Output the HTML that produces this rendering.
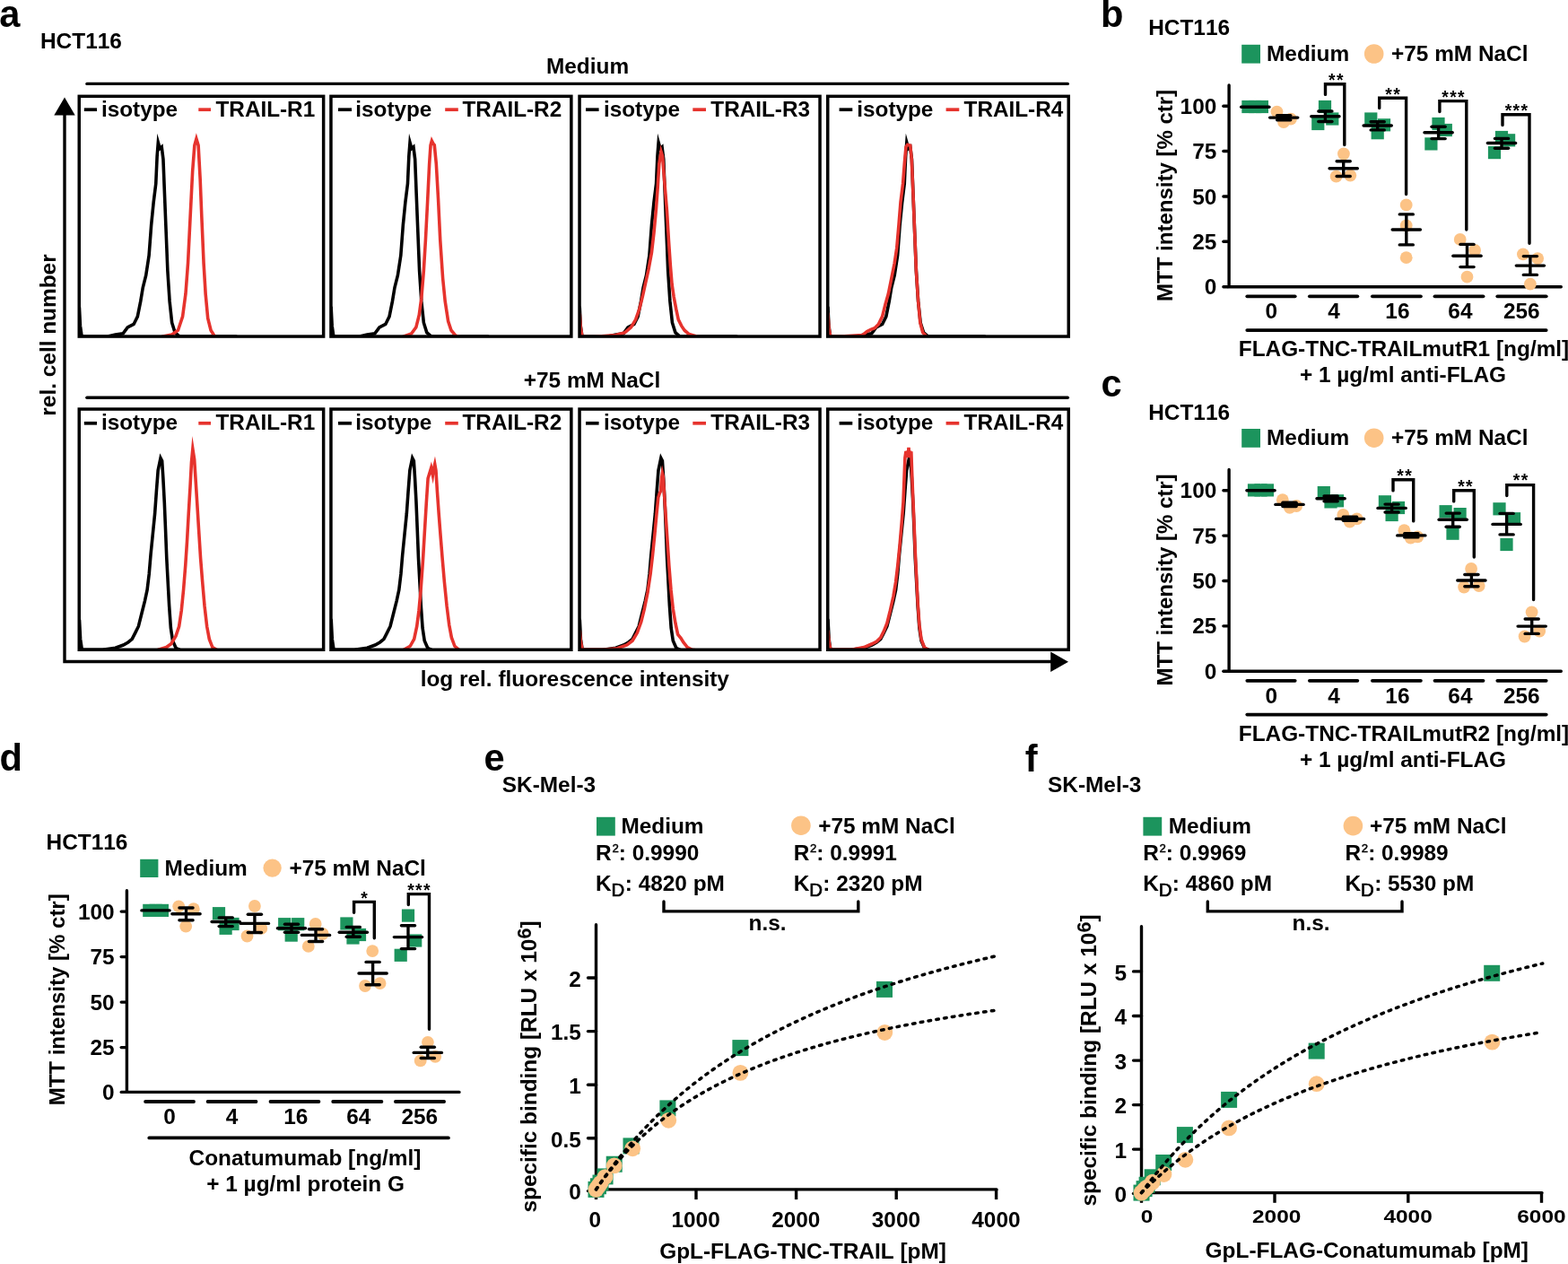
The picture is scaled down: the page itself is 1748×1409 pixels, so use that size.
<!DOCTYPE html>
<html lang="en">
<head>
<meta charset="utf-8">
<title>Figure</title>
<style>
html,body{margin:0;padding:0;background:#fff;}
body{width:1748px;height:1409px;overflow:hidden;}
svg{display:block;font-family:"Liberation Sans",sans-serif;font-kerning:none;}
</style>
</head>
<body>
<svg width="1748" height="1409" viewBox="0 0 1748 1409">
<rect x="0" y="0" width="1748" height="1409" fill="#fff"/>
<text x="-0.80" y="30.30" font-size="41.60" font-weight="bold" text-anchor="start" fill="#000">a</text>
<text x="45.00" y="54.00" font-size="24.40" font-weight="bold" text-anchor="start" fill="#000">HCT116</text>
<text x="655.00" y="82.00" font-size="24.40" font-weight="bold" text-anchor="middle" fill="#000">Medium</text>
<line x1="96.90" y1="93.40" x2="1190.30" y2="93.40" stroke="#000" stroke-width="3.4" stroke-linecap="round"/>
<text x="660.00" y="432.40" font-size="24.40" font-weight="bold" text-anchor="middle" fill="#000">+75 mM NaCl</text>
<line x1="96.90" y1="443.30" x2="1190.30" y2="443.30" stroke="#000" stroke-width="3.4" stroke-linecap="round"/>
<path d="M72.0 126 V737.5 H1172" stroke="#000" stroke-width="3.4" fill="none" stroke-linecap="butt" stroke-linejoin="miter"/>
<polygon points="72.0,108.5 60.3,128.4 83.7,128.4" fill="#000"/>
<polygon points="1191.0,737.7 1171.2,726.4 1171.2,749.0" fill="#000"/>
<text x="62.00" y="373.50" font-size="24.40" font-weight="bold" text-anchor="middle" fill="#000" transform="rotate(-90 62.00 373.50)">rel. cell number</text>
<text x="640.80" y="765.20" font-size="24.40" font-weight="bold" text-anchor="middle" fill="#000">log rel. fluorescence intensity</text>
<clipPath id="cb00"><rect x="87.5" y="106.6" width="273.9" height="269.2"/></clipPath>
<path d="M88.43 342.69 L89.46 363.13 L91.16 375.01 L120.12 375.01 L128.63 373.08 L137.15 371.87 L142.26 364.83 L145.67 363.13 L149.07 361.43 L153.33 352.91 L156.74 335.88 L159.29 320.55 L162.70 306.92 L166.10 284.78 L168.66 250.71 L171.21 225.16 L173.77 204.72 L175.13 174.07 L176.32 158.92 L178.20 165.55 L180.24 163.76 L181.95 177.47 L183.48 216.65 L185.18 259.23 L186.88 301.81 L189.10 335.88 L191.65 359.72 L195.06 370.66 L200.17 375.01 L263.19 375.01" fill="none" stroke="#000" stroke-width="3.6" stroke-linejoin="miter" stroke-miterlimit="30" stroke-linecap="round" clip-path="url(#cb00)"/>
<path d="M181.43 375.01 L191.65 373.08 L198.47 368.24 L203.58 352.91 L206.98 327.36 L209.54 293.30 L212.09 242.20 L214.65 191.10 L216.86 162.14 L218.91 154.81 L221.12 162.14 L223.16 199.62 L224.87 242.20 L227.08 293.30 L229.13 327.36 L231.68 354.61 L235.09 368.24 L239.35 375.01" fill="none" stroke="#e6332d" stroke-width="3.6" stroke-linejoin="miter" stroke-miterlimit="30" stroke-linecap="round" clip-path="url(#cb00)"/>
<rect x="88.25" y="107.35" width="272.40" height="267.70" fill="none" stroke="#000" stroke-width="3.5"/>
<line x1="93.80" y1="122.20" x2="108.00" y2="122.20" stroke="#000" stroke-width="3.7" stroke-linecap="butt"/>
<line x1="221.30" y1="122.20" x2="235.00" y2="122.20" stroke="#e6332d" stroke-width="3.7" stroke-linecap="butt"/>
<text x="113.00" y="130.10" font-size="24.30" font-weight="bold" text-anchor="start" fill="#000">isotype</text>
<text x="240.50" y="130.10" font-size="24.30" font-weight="bold" text-anchor="start" fill="#000">TRAIL-R1</text>
<clipPath id="cb01"><rect x="368.2" y="106.6" width="269.4" height="269.2"/></clipPath>
<path d="M369.13 342.69 L370.16 363.13 L371.86 375.01 L400.82 375.01 L409.33 373.08 L417.85 371.87 L422.96 364.83 L426.37 363.13 L429.77 361.43 L434.03 352.91 L437.44 335.88 L439.99 320.55 L443.40 306.92 L446.80 284.78 L449.36 250.71 L451.91 225.16 L454.47 204.72 L455.83 174.07 L457.02 158.92 L458.90 165.55 L460.94 163.76 L462.65 177.47 L464.18 216.65 L465.88 259.23 L467.58 301.81 L469.80 335.88 L472.35 359.72 L475.76 370.66 L480.87 375.01 L543.89 375.01" fill="none" stroke="#000" stroke-width="3.6" stroke-linejoin="miter" stroke-miterlimit="30" stroke-linecap="round" clip-path="url(#cb01)"/>
<path d="M450.21 375.01 L458.73 371.87 L463.84 364.83 L467.24 351.21 L469.80 332.47 L472.35 301.81 L474.40 267.75 L476.61 225.16 L478.66 182.58 L480.02 162.14 L481.38 157.02 L482.91 160.10 L484.28 161.80 L486.32 182.58 L488.54 221.76 L490.75 267.75 L493.64 310.33 L496.20 335.88 L499.61 358.02 L503.01 368.24 L508.12 374.29 L513.23 375.50" fill="none" stroke="#e6332d" stroke-width="3.6" stroke-linejoin="miter" stroke-miterlimit="30" stroke-linecap="round" clip-path="url(#cb01)"/>
<rect x="368.95" y="107.35" width="267.90" height="267.70" fill="none" stroke="#000" stroke-width="3.5"/>
<line x1="377.00" y1="122.20" x2="392.00" y2="122.20" stroke="#000" stroke-width="3.7" stroke-linecap="butt"/>
<line x1="496.20" y1="122.20" x2="510.80" y2="122.20" stroke="#e6332d" stroke-width="3.7" stroke-linecap="butt"/>
<text x="396.30" y="130.10" font-size="24.30" font-weight="bold" text-anchor="start" fill="#000">isotype</text>
<text x="515.50" y="130.10" font-size="24.30" font-weight="bold" text-anchor="start" fill="#000">TRAIL-R2</text>
<clipPath id="cb02"><rect x="645.3" y="106.6" width="269.5" height="269.2"/></clipPath>
<path d="M646.23 342.69 L647.26 363.13 L648.96 375.01 L677.92 375.01 L686.43 373.08 L694.95 371.87 L700.06 364.83 L703.47 363.13 L706.87 361.43 L711.13 352.91 L714.54 335.88 L717.09 320.55 L720.50 306.92 L723.90 284.78 L726.46 250.71 L729.01 225.16 L731.57 204.72 L732.93 174.07 L734.12 158.92 L736.00 165.55 L738.04 163.76 L739.75 177.47 L741.28 216.65 L742.98 259.23 L744.68 301.81 L746.90 335.88 L749.45 359.72 L752.86 370.66 L757.97 375.01 L820.99 375.01" fill="none" stroke="#000" stroke-width="3.6" stroke-linejoin="miter" stroke-miterlimit="30" stroke-linecap="round" clip-path="url(#cb02)"/>
<path d="M646.23 349.50 L647.26 364.83 L648.96 375.01 L660.88 375.50 L686.43 373.56 L696.65 370.66 L703.47 364.83 L708.57 356.32 L712.83 344.39 L716.24 330.77 L719.65 315.44 L723.05 300.11 L726.46 281.37 L729.01 259.23 L731.40 233.68 L733.27 208.13 L734.81 182.58 L737.02 169.12 L738.55 174.07 L740.94 204.72 L743.49 235.38 L745.54 269.45 L747.41 296.70 L749.11 317.14 L751.16 330.77 L753.71 344.39 L756.27 356.32 L759.67 363.13 L763.08 368.24 L768.19 372.59 L776.71 375.01 L783.52 375.98" fill="none" stroke="#e6332d" stroke-width="3.6" stroke-linejoin="miter" stroke-miterlimit="30" stroke-linecap="round" clip-path="url(#cb02)"/>
<rect x="646.05" y="107.35" width="268.00" height="267.70" fill="none" stroke="#000" stroke-width="3.5"/>
<line x1="653.00" y1="122.20" x2="667.60" y2="122.20" stroke="#000" stroke-width="3.7" stroke-linecap="butt"/>
<line x1="772.30" y1="122.20" x2="787.00" y2="122.20" stroke="#e6332d" stroke-width="3.7" stroke-linecap="butt"/>
<text x="673.00" y="130.10" font-size="24.30" font-weight="bold" text-anchor="start" fill="#000">isotype</text>
<text x="792.30" y="130.10" font-size="24.30" font-weight="bold" text-anchor="start" fill="#000">TRAIL-R3</text>
<clipPath id="cb03"><rect x="922.0" y="106.6" width="270.0" height="269.2"/></clipPath>
<path d="M922.93 342.69 L923.96 363.13 L925.66 375.01 L954.62 375.01 L963.13 373.08 L971.65 371.87 L976.76 364.83 L980.17 363.13 L983.57 361.43 L987.83 352.91 L991.24 335.88 L993.79 320.55 L997.20 306.92 L1000.60 284.78 L1003.16 250.71 L1005.71 225.16 L1008.27 204.72 L1009.63 174.07 L1010.82 158.92 L1012.70 165.55 L1014.74 163.76 L1016.45 177.47 L1017.98 216.65 L1019.68 259.23 L1021.38 301.81 L1023.60 335.88 L1026.15 359.72 L1029.56 370.66 L1034.67 375.01 L1097.69 375.01" fill="none" stroke="#000" stroke-width="3.6" stroke-linejoin="miter" stroke-miterlimit="30" stroke-linecap="round" clip-path="url(#cb03)"/>
<path d="M922.93 349.50 L923.96 364.83 L925.66 375.01 L937.58 375.01 L961.43 373.56 L966.54 369.45 L970.80 367.39 L975.06 365.69 L979.31 361.43 L983.57 352.91 L986.98 339.28 L990.38 327.36 L993.79 310.33 L997.20 293.30 L999.75 276.26 L1001.97 250.71 L1004.01 225.16 L1006.57 204.72 L1008.27 182.58 L1009.97 163.85 L1011.68 161.29 L1014.74 162.14 L1016.27 177.47 L1017.98 216.65 L1019.68 259.23 L1021.38 301.81 L1023.60 335.88 L1025.81 359.72 L1028.71 370.66 L1032.97 375.01" fill="none" stroke="#e6332d" stroke-width="3.6" stroke-linejoin="miter" stroke-miterlimit="30" stroke-linecap="round" clip-path="url(#cb03)"/>
<rect x="922.75" y="107.35" width="268.50" height="267.70" fill="none" stroke="#000" stroke-width="3.5"/>
<line x1="935.60" y1="122.20" x2="950.30" y2="122.20" stroke="#000" stroke-width="3.7" stroke-linecap="butt"/>
<line x1="1054.60" y1="122.20" x2="1069.30" y2="122.20" stroke="#e6332d" stroke-width="3.7" stroke-linecap="butt"/>
<text x="955.30" y="130.10" font-size="24.30" font-weight="bold" text-anchor="start" fill="#000">isotype</text>
<text x="1074.60" y="130.10" font-size="24.30" font-weight="bold" text-anchor="start" fill="#000">TRAIL-R4</text>
<clipPath id="cb10"><rect x="87.5" y="455.3" width="273.9" height="269.7"/></clipPath>
<path d="M88.53 691.14 L89.60 712.43 L91.37 724.31 L114.44 724.31 L128.63 722.29 L137.50 719.02 L142.83 715.98 L147.26 712.43 L150.81 705.34 L154.36 698.24 L157.91 684.05 L161.46 669.85 L164.12 657.43 L166.25 639.69 L168.02 618.40 L170.33 595.33 L172.64 572.26 L174.41 547.42 L176.18 524.36 L179.02 510.61 L180.62 513.71 L181.86 533.23 L183.28 559.84 L184.52 590.01 L185.77 621.94 L187.19 648.56 L188.61 675.17 L190.38 700.01 L192.51 714.21 L196.06 722.29 L201.38 724.81 L265.26 724.81" fill="none" stroke="#000" stroke-width="3.6" stroke-linejoin="miter" stroke-miterlimit="30" stroke-linecap="round" clip-path="url(#cb10)"/>
<path d="M176.54 724.31 L185.41 721.54 L190.73 717.76 L196.06 708.89 L199.61 698.24 L202.27 680.50 L204.57 657.43 L206.70 630.82 L208.48 604.20 L210.25 572.26 L212.03 542.10 L213.45 515.49 L214.86 500.53 L216.64 511.94 L218.24 536.78 L220.01 565.17 L221.78 593.56 L223.56 621.94 L225.69 648.56 L227.99 675.17 L230.66 698.24 L233.32 712.43 L236.87 721.54 L242.19 724.81" fill="none" stroke="#e6332d" stroke-width="3.6" stroke-linejoin="miter" stroke-miterlimit="30" stroke-linecap="round" clip-path="url(#cb10)"/>
<rect x="88.25" y="456.05" width="272.40" height="268.20" fill="none" stroke="#000" stroke-width="3.5"/>
<line x1="93.80" y1="471.80" x2="108.00" y2="471.80" stroke="#000" stroke-width="3.7" stroke-linecap="butt"/>
<line x1="221.30" y1="471.80" x2="235.00" y2="471.80" stroke="#e6332d" stroke-width="3.7" stroke-linecap="butt"/>
<text x="113.00" y="479.20" font-size="24.30" font-weight="bold" text-anchor="start" fill="#000">isotype</text>
<text x="240.50" y="479.20" font-size="24.30" font-weight="bold" text-anchor="start" fill="#000">TRAIL-R1</text>
<clipPath id="cb11"><rect x="368.2" y="455.3" width="269.4" height="269.7"/></clipPath>
<path d="M369.23 691.14 L370.30 712.43 L372.07 724.31 L395.14 724.31 L409.33 722.29 L418.20 719.02 L423.53 715.98 L427.96 712.43 L431.51 705.34 L435.06 698.24 L438.61 684.05 L442.16 669.85 L444.82 657.43 L446.95 639.69 L448.72 618.40 L451.03 595.33 L453.34 572.26 L455.11 547.42 L456.88 524.36 L459.72 510.61 L461.32 513.71 L462.56 533.23 L463.98 559.84 L465.22 590.01 L466.47 621.94 L467.89 648.56 L469.31 675.17 L471.08 700.01 L473.21 714.21 L476.76 722.29 L482.08 724.81 L545.96 724.81" fill="none" stroke="#000" stroke-width="3.6" stroke-linejoin="miter" stroke-miterlimit="30" stroke-linecap="round" clip-path="url(#cb11)"/>
<path d="M450.14 724.31 L457.24 720.28 L461.68 712.43 L464.69 698.24 L467.00 680.50 L469.13 657.43 L471.43 625.49 L473.21 595.33 L475.34 559.84 L477.11 533.23 L480.66 521.66 L482.43 529.68 L483.50 522.58 L484.74 517.32 L485.98 524.36 L487.40 547.42 L489.18 572.26 L490.95 595.33 L493.08 621.94 L495.39 648.56 L498.05 675.17 L500.71 696.47 L503.37 710.66 L506.92 720.28 L512.24 724.81" fill="none" stroke="#e6332d" stroke-width="3.6" stroke-linejoin="miter" stroke-miterlimit="30" stroke-linecap="round" clip-path="url(#cb11)"/>
<rect x="368.95" y="456.05" width="267.90" height="268.20" fill="none" stroke="#000" stroke-width="3.5"/>
<line x1="377.00" y1="471.80" x2="392.00" y2="471.80" stroke="#000" stroke-width="3.7" stroke-linecap="butt"/>
<line x1="496.20" y1="471.80" x2="510.80" y2="471.80" stroke="#e6332d" stroke-width="3.7" stroke-linecap="butt"/>
<text x="396.30" y="479.20" font-size="24.30" font-weight="bold" text-anchor="start" fill="#000">isotype</text>
<text x="515.50" y="479.20" font-size="24.30" font-weight="bold" text-anchor="start" fill="#000">TRAIL-R2</text>
<clipPath id="cb12"><rect x="645.3" y="455.3" width="269.5" height="269.7"/></clipPath>
<path d="M646.33 691.14 L647.40 712.43 L649.17 724.31 L672.24 724.31 L686.43 722.29 L695.30 719.02 L700.63 715.98 L705.06 712.43 L708.61 705.34 L712.16 698.24 L715.71 684.05 L719.26 669.85 L721.92 657.43 L724.05 639.69 L725.82 618.40 L728.13 595.33 L730.44 572.26 L732.21 547.42 L733.98 524.36 L736.82 510.61 L738.42 513.71 L739.66 533.23 L741.08 559.84 L742.32 590.01 L743.57 621.94 L744.99 648.56 L746.41 675.17 L748.18 700.01 L750.31 714.21 L753.86 722.29 L759.18 724.81 L823.06 724.81" fill="none" stroke="#000" stroke-width="3.6" stroke-linejoin="miter" stroke-miterlimit="30" stroke-linecap="round" clip-path="url(#cb12)"/>
<path d="M646.33 703.56 L647.40 715.10 L649.17 724.31 L672.24 724.31 L688.21 722.80 L698.85 719.02 L705.06 714.21 L710.39 705.34 L714.82 692.92 L718.37 678.72 L721.92 660.98 L725.11 639.69 L727.60 618.40 L729.90 595.33 L732.03 572.26 L733.81 554.52 L735.23 550.09 L736.47 547.42 L737.53 533.23 L738.42 527.61 L739.31 531.45 L740.55 550.97 L742.32 577.59 L744.10 604.20 L745.87 630.82 L748.00 657.43 L750.31 678.72 L752.97 694.69 L755.63 707.11 L759.18 711.55 L761.84 715.98 L766.28 721.54 L771.60 724.31 L778.70 725.32" fill="none" stroke="#e6332d" stroke-width="3.6" stroke-linejoin="miter" stroke-miterlimit="30" stroke-linecap="round" clip-path="url(#cb12)"/>
<rect x="646.05" y="456.05" width="268.00" height="268.20" fill="none" stroke="#000" stroke-width="3.5"/>
<line x1="653.00" y1="471.80" x2="667.60" y2="471.80" stroke="#000" stroke-width="3.7" stroke-linecap="butt"/>
<line x1="772.30" y1="471.80" x2="787.00" y2="471.80" stroke="#e6332d" stroke-width="3.7" stroke-linecap="butt"/>
<text x="673.00" y="479.20" font-size="24.30" font-weight="bold" text-anchor="start" fill="#000">isotype</text>
<text x="792.30" y="479.20" font-size="24.30" font-weight="bold" text-anchor="start" fill="#000">TRAIL-R3</text>
<clipPath id="cb13"><rect x="922.0" y="455.3" width="270.0" height="269.7"/></clipPath>
<path d="M923.03 691.14 L924.10 712.43 L925.87 724.31 L948.94 724.31 L963.13 722.29 L972.00 719.02 L977.33 715.98 L981.76 712.43 L985.31 705.34 L988.86 698.24 L992.41 684.05 L995.96 669.85 L998.62 657.43 L1000.75 639.69 L1002.52 618.40 L1004.83 595.33 L1007.14 572.26 L1008.91 547.42 L1010.68 524.36 L1013.52 510.61 L1015.12 513.71 L1016.36 533.23 L1017.78 559.84 L1019.02 590.01 L1020.27 621.94 L1021.69 648.56 L1023.11 675.17 L1024.88 700.01 L1027.01 714.21 L1030.56 722.29 L1035.88 724.81 L1099.76 724.81" fill="none" stroke="#000" stroke-width="3.6" stroke-linejoin="miter" stroke-miterlimit="30" stroke-linecap="round" clip-path="url(#cb13)"/>
<path d="M923.03 703.56 L924.10 715.10 L925.87 724.31 L948.94 724.31 L963.13 721.54 L972.00 717.76 L977.33 715.10 L981.76 710.66 L985.31 703.56 L988.86 694.69 L992.41 680.50 L995.96 664.53 L998.62 648.56 L1000.75 630.82 L1003.06 607.75 L1005.18 582.91 L1006.96 559.84 L1008.02 533.23 L1008.91 510.16 L1009.98 503.07 L1010.68 510.16 L1011.39 502.71 L1012.10 510.16 L1012.64 503.07 L1012.99 498.81 L1013.35 503.07 L1013.88 510.16 L1014.59 502.71 L1015.30 510.16 L1015.83 503.24 L1016.54 524.36 L1017.60 550.97 L1019.02 582.91 L1020.27 614.85 L1021.69 643.24 L1023.11 671.63 L1024.88 696.47 L1027.01 712.43 L1030.56 721.79 L1035.88 724.81" fill="none" stroke="#e6332d" stroke-width="3.6" stroke-linejoin="miter" stroke-miterlimit="2.2" stroke-linecap="round" clip-path="url(#cb13)"/>
<rect x="922.75" y="456.05" width="268.50" height="268.20" fill="none" stroke="#000" stroke-width="3.5"/>
<line x1="935.60" y1="471.80" x2="950.30" y2="471.80" stroke="#000" stroke-width="3.7" stroke-linecap="butt"/>
<line x1="1054.60" y1="471.80" x2="1069.30" y2="471.80" stroke="#e6332d" stroke-width="3.7" stroke-linecap="butt"/>
<text x="955.30" y="479.20" font-size="24.30" font-weight="bold" text-anchor="start" fill="#000">isotype</text>
<text x="1074.60" y="479.20" font-size="24.30" font-weight="bold" text-anchor="start" fill="#000">TRAIL-R4</text>
<text x="1226.90" y="30.20" font-size="41.60" font-weight="bold" text-anchor="start" fill="#000">b</text>
<text x="1280.20" y="39.00" font-size="24.40" font-weight="bold" text-anchor="start" fill="#000">HCT116</text>
<rect x="1384.20" y="49.80" width="20.8" height="20.8" fill="#1c945d"/>
<text x="1412.00" y="68.20" font-size="24.40" font-weight="bold" text-anchor="start" fill="#000">Medium</text>
<circle cx="1531.70" cy="60.00" r="10.8" fill="#fcc386"/>
<text x="1551.00" y="68.20" font-size="24.40" font-weight="bold" text-anchor="start" fill="#000">+75 mM NaCl</text>
<text x="1227.50" y="441.70" font-size="41.60" font-weight="bold" text-anchor="start" fill="#000">c</text>
<text x="1280.20" y="467.60" font-size="24.40" font-weight="bold" text-anchor="start" fill="#000">HCT116</text>
<rect x="1384.20" y="478.00" width="20.8" height="20.8" fill="#1c945d"/>
<text x="1412.00" y="496.40" font-size="24.40" font-weight="bold" text-anchor="start" fill="#000">Medium</text>
<circle cx="1531.70" cy="488.20" r="10.8" fill="#fcc386"/>
<text x="1551.00" y="496.40" font-size="24.40" font-weight="bold" text-anchor="start" fill="#000">+75 mM NaCl</text>
<path d="M1370.10 94.90 V319.70 H1740.30" stroke="#000" stroke-width="3.4" fill="none" stroke-linecap="round" stroke-linejoin="miter"/>
<line x1="1363.90" y1="319.70" x2="1368.40" y2="319.70" stroke="#000" stroke-width="3.4" stroke-linecap="round"/>
<text x="1356.30" y="328.30" font-size="24.40" font-weight="bold" text-anchor="end" fill="#000">0</text>
<line x1="1363.90" y1="269.32" x2="1368.40" y2="269.32" stroke="#000" stroke-width="3.4" stroke-linecap="round"/>
<text x="1356.30" y="277.93" font-size="24.40" font-weight="bold" text-anchor="end" fill="#000">25</text>
<line x1="1363.90" y1="218.95" x2="1368.40" y2="218.95" stroke="#000" stroke-width="3.4" stroke-linecap="round"/>
<text x="1356.30" y="227.55" font-size="24.40" font-weight="bold" text-anchor="end" fill="#000">50</text>
<line x1="1363.90" y1="168.57" x2="1368.40" y2="168.57" stroke="#000" stroke-width="3.4" stroke-linecap="round"/>
<text x="1356.30" y="177.17" font-size="24.40" font-weight="bold" text-anchor="end" fill="#000">75</text>
<line x1="1363.90" y1="118.20" x2="1368.40" y2="118.20" stroke="#000" stroke-width="3.4" stroke-linecap="round"/>
<text x="1356.30" y="126.80" font-size="24.40" font-weight="bold" text-anchor="end" fill="#000">100</text>
<text x="0" y="0" font-size="24" font-weight="bold" text-anchor="middle" transform="translate(1307.00 217.90) rotate(-90) scale(1 1.0)">MTT intensity [% ctr]</text>
<line x1="1390.30" y1="330.30" x2="1443.70" y2="330.30" stroke="#000" stroke-width="3.8" stroke-linecap="round"/>
<line x1="1459.90" y1="330.30" x2="1513.30" y2="330.30" stroke="#000" stroke-width="3.8" stroke-linecap="round"/>
<line x1="1529.90" y1="330.30" x2="1583.90" y2="330.30" stroke="#000" stroke-width="3.8" stroke-linecap="round"/>
<line x1="1599.50" y1="330.30" x2="1653.50" y2="330.30" stroke="#000" stroke-width="3.8" stroke-linecap="round"/>
<line x1="1669.30" y1="330.30" x2="1723.70" y2="330.30" stroke="#000" stroke-width="3.8" stroke-linecap="round"/>
<text x="1417.30" y="355.40" font-size="24.40" font-weight="bold" text-anchor="middle" fill="#000">0</text>
<text x="1487.00" y="355.40" font-size="24.40" font-weight="bold" text-anchor="middle" fill="#000">4</text>
<text x="1557.90" y="355.40" font-size="24.40" font-weight="bold" text-anchor="middle" fill="#000">16</text>
<text x="1627.90" y="355.40" font-size="24.40" font-weight="bold" text-anchor="middle" fill="#000">64</text>
<text x="1696.30" y="355.40" font-size="24.40" font-weight="bold" text-anchor="middle" fill="#000">256</text>
<line x1="1390.30" y1="368.10" x2="1723.70" y2="368.10" stroke="#000" stroke-width="3.8" stroke-linecap="round"/>
<text x="1565.00" y="397.20" font-size="24.40" font-weight="bold" text-anchor="middle" fill="#000">FLAG-TNC-TRAILmutR1 [ng/ml]</text>
<text x="1564.00" y="426.30" font-size="24.40" font-weight="bold" text-anchor="middle" fill="#000">+ 1 µg/ml anti-FLAG</text>
<rect x="1384.30" y="111.90" width="14.2" height="14.2" fill="#1c945d"/>
<rect x="1392.10" y="111.90" width="14.2" height="14.2" fill="#1c945d"/>
<rect x="1399.80" y="111.90" width="14.2" height="14.2" fill="#1c945d"/>
<circle cx="1423.50" cy="124.60" r="6.9" fill="#fcc386"/>
<circle cx="1431.00" cy="136.00" r="6.9" fill="#fcc386"/>
<circle cx="1439.00" cy="132.60" r="6.9" fill="#fcc386"/>
<rect x="1469.90" y="111.90" width="14.2" height="14.2" fill="#1c945d"/>
<rect x="1478.20" y="125.40" width="14.2" height="14.2" fill="#1c945d"/>
<rect x="1462.20" y="130.90" width="14.2" height="14.2" fill="#1c945d"/>
<circle cx="1497.90" cy="171.50" r="6.9" fill="#fcc386"/>
<circle cx="1489.60" cy="196.70" r="6.9" fill="#fcc386"/>
<circle cx="1505.30" cy="195.60" r="6.9" fill="#fcc386"/>
<rect x="1521.20" y="125.40" width="14.2" height="14.2" fill="#1c945d"/>
<rect x="1535.90" y="132.20" width="14.2" height="14.2" fill="#1c945d"/>
<rect x="1528.60" y="141.10" width="14.2" height="14.2" fill="#1c945d"/>
<circle cx="1567.70" cy="228.40" r="6.9" fill="#fcc386"/>
<circle cx="1567.70" cy="251.50" r="6.9" fill="#fcc386"/>
<circle cx="1567.70" cy="287.20" r="6.9" fill="#fcc386"/>
<rect x="1596.40" y="130.90" width="14.2" height="14.2" fill="#1c945d"/>
<rect x="1604.70" y="137.90" width="14.2" height="14.2" fill="#1c945d"/>
<rect x="1588.30" y="153.30" width="14.2" height="14.2" fill="#1c945d"/>
<circle cx="1627.70" cy="266.90" r="6.9" fill="#fcc386"/>
<circle cx="1644.10" cy="279.00" r="6.9" fill="#fcc386"/>
<circle cx="1635.50" cy="308.70" r="6.9" fill="#fcc386"/>
<rect x="1666.90" y="145.90" width="14.2" height="14.2" fill="#1c945d"/>
<rect x="1675.00" y="149.20" width="14.2" height="14.2" fill="#1c945d"/>
<rect x="1658.90" y="163.00" width="14.2" height="14.2" fill="#1c945d"/>
<circle cx="1697.90" cy="283.30" r="6.9" fill="#fcc386"/>
<circle cx="1714.20" cy="288.10" r="6.9" fill="#fcc386"/>
<circle cx="1705.90" cy="316.70" r="6.9" fill="#fcc386"/>
<line x1="1383.70" y1="119.30" x2="1414.90" y2="119.30" stroke="#000" stroke-width="3.4" stroke-linecap="round"/>
<line x1="1415.60" y1="131.10" x2="1446.80" y2="131.10" stroke="#000" stroke-width="3.4" stroke-linecap="round"/>
<line x1="1423.65" y1="128.60" x2="1438.75" y2="128.60" stroke="#000" stroke-width="3.4" stroke-linecap="round"/>
<line x1="1423.65" y1="133.80" x2="1438.75" y2="133.80" stroke="#000" stroke-width="3.4" stroke-linecap="round"/>
<line x1="1431.20" y1="128.60" x2="1431.20" y2="133.80" stroke="#000" stroke-width="3.4" stroke-linecap="butt"/>
<line x1="1461.80" y1="129.80" x2="1493.00" y2="129.80" stroke="#000" stroke-width="3.4" stroke-linecap="round"/>
<line x1="1469.85" y1="124.00" x2="1484.95" y2="124.00" stroke="#000" stroke-width="3.4" stroke-linecap="round"/>
<line x1="1469.85" y1="135.50" x2="1484.95" y2="135.50" stroke="#000" stroke-width="3.4" stroke-linecap="round"/>
<line x1="1477.40" y1="124.00" x2="1477.40" y2="135.50" stroke="#000" stroke-width="3.4" stroke-linecap="butt"/>
<line x1="1482.10" y1="187.80" x2="1513.30" y2="187.80" stroke="#000" stroke-width="3.4" stroke-linecap="round"/>
<line x1="1490.15" y1="179.80" x2="1505.25" y2="179.80" stroke="#000" stroke-width="3.4" stroke-linecap="round"/>
<line x1="1490.15" y1="196.50" x2="1505.25" y2="196.50" stroke="#000" stroke-width="3.4" stroke-linecap="round"/>
<line x1="1497.70" y1="179.80" x2="1497.70" y2="196.50" stroke="#000" stroke-width="3.4" stroke-linecap="butt"/>
<line x1="1520.10" y1="140.00" x2="1551.30" y2="140.00" stroke="#000" stroke-width="3.4" stroke-linecap="round"/>
<line x1="1528.15" y1="135.70" x2="1543.25" y2="135.70" stroke="#000" stroke-width="3.4" stroke-linecap="round"/>
<line x1="1528.15" y1="144.90" x2="1543.25" y2="144.90" stroke="#000" stroke-width="3.4" stroke-linecap="round"/>
<line x1="1535.70" y1="135.70" x2="1535.70" y2="144.90" stroke="#000" stroke-width="3.4" stroke-linecap="butt"/>
<line x1="1552.20" y1="256.00" x2="1583.40" y2="256.00" stroke="#000" stroke-width="3.4" stroke-linecap="round"/>
<line x1="1560.25" y1="238.90" x2="1575.35" y2="238.90" stroke="#000" stroke-width="3.4" stroke-linecap="round"/>
<line x1="1560.25" y1="272.90" x2="1575.35" y2="272.90" stroke="#000" stroke-width="3.4" stroke-linecap="round"/>
<line x1="1567.80" y1="238.90" x2="1567.80" y2="272.90" stroke="#000" stroke-width="3.4" stroke-linecap="butt"/>
<line x1="1588.00" y1="147.80" x2="1619.20" y2="147.80" stroke="#000" stroke-width="3.4" stroke-linecap="round"/>
<line x1="1596.05" y1="141.20" x2="1611.15" y2="141.20" stroke="#000" stroke-width="3.4" stroke-linecap="round"/>
<line x1="1596.05" y1="154.60" x2="1611.15" y2="154.60" stroke="#000" stroke-width="3.4" stroke-linecap="round"/>
<line x1="1603.60" y1="141.20" x2="1603.60" y2="154.60" stroke="#000" stroke-width="3.4" stroke-linecap="butt"/>
<line x1="1619.90" y1="285.20" x2="1651.10" y2="285.20" stroke="#000" stroke-width="3.4" stroke-linecap="round"/>
<line x1="1627.95" y1="272.40" x2="1643.05" y2="272.40" stroke="#000" stroke-width="3.4" stroke-linecap="round"/>
<line x1="1627.95" y1="297.60" x2="1643.05" y2="297.60" stroke="#000" stroke-width="3.4" stroke-linecap="round"/>
<line x1="1635.50" y1="272.40" x2="1635.50" y2="297.60" stroke="#000" stroke-width="3.4" stroke-linecap="butt"/>
<line x1="1658.40" y1="159.50" x2="1689.60" y2="159.50" stroke="#000" stroke-width="3.4" stroke-linecap="round"/>
<line x1="1666.45" y1="154.40" x2="1681.55" y2="154.40" stroke="#000" stroke-width="3.4" stroke-linecap="round"/>
<line x1="1666.45" y1="165.20" x2="1681.55" y2="165.20" stroke="#000" stroke-width="3.4" stroke-linecap="round"/>
<line x1="1674.00" y1="154.40" x2="1674.00" y2="165.20" stroke="#000" stroke-width="3.4" stroke-linecap="butt"/>
<line x1="1690.30" y1="296.10" x2="1721.50" y2="296.10" stroke="#000" stroke-width="3.4" stroke-linecap="round"/>
<line x1="1698.35" y1="285.60" x2="1713.45" y2="285.60" stroke="#000" stroke-width="3.4" stroke-linecap="round"/>
<line x1="1698.35" y1="306.40" x2="1713.45" y2="306.40" stroke="#000" stroke-width="3.4" stroke-linecap="round"/>
<line x1="1705.90" y1="285.60" x2="1705.90" y2="306.40" stroke="#000" stroke-width="3.4" stroke-linecap="butt"/>
<path d="M1477.50 105.40 V93.70 H1498.80 V161.50" stroke="#000" stroke-width="3.4" fill="none" stroke-linecap="round" stroke-linejoin="miter"/>
<text x="1489.97" y="95.99" font-size="19.4" font-weight="bold" text-anchor="middle" letter-spacing="1.35">**</text>
<path d="M1537.70 120.60 V109.20 H1567.60 V216.60" stroke="#000" stroke-width="3.4" fill="none" stroke-linecap="round" stroke-linejoin="miter"/>
<text x="1553.27" y="112.39" font-size="19.4" font-weight="bold" text-anchor="middle" letter-spacing="1.35">**</text>
<path d="M1604.90 124.60 V112.60 H1634.80 V256.00" stroke="#000" stroke-width="3.4" fill="none" stroke-linecap="round" stroke-linejoin="miter"/>
<text x="1620.67" y="115.39" font-size="19.4" font-weight="bold" text-anchor="middle" letter-spacing="1.35">***</text>
<path d="M1675.00 139.50 V127.80 H1705.00 V271.20" stroke="#000" stroke-width="3.4" fill="none" stroke-linecap="round" stroke-linejoin="miter"/>
<text x="1691.08" y="130.49" font-size="19.4" font-weight="bold" text-anchor="middle" letter-spacing="1.35">***</text>
<path d="M1370.10 523.40 V748.20 H1740.30" stroke="#000" stroke-width="3.4" fill="none" stroke-linecap="round" stroke-linejoin="miter"/>
<line x1="1363.90" y1="748.20" x2="1368.40" y2="748.20" stroke="#000" stroke-width="3.4" stroke-linecap="round"/>
<text x="1356.30" y="756.80" font-size="24.40" font-weight="bold" text-anchor="end" fill="#000">0</text>
<line x1="1363.90" y1="697.83" x2="1368.40" y2="697.83" stroke="#000" stroke-width="3.4" stroke-linecap="round"/>
<text x="1356.30" y="706.43" font-size="24.40" font-weight="bold" text-anchor="end" fill="#000">25</text>
<line x1="1363.90" y1="647.45" x2="1368.40" y2="647.45" stroke="#000" stroke-width="3.4" stroke-linecap="round"/>
<text x="1356.30" y="656.05" font-size="24.40" font-weight="bold" text-anchor="end" fill="#000">50</text>
<line x1="1363.90" y1="597.08" x2="1368.40" y2="597.08" stroke="#000" stroke-width="3.4" stroke-linecap="round"/>
<text x="1356.30" y="605.68" font-size="24.40" font-weight="bold" text-anchor="end" fill="#000">75</text>
<line x1="1363.90" y1="546.70" x2="1368.40" y2="546.70" stroke="#000" stroke-width="3.4" stroke-linecap="round"/>
<text x="1356.30" y="555.30" font-size="24.40" font-weight="bold" text-anchor="end" fill="#000">100</text>
<text x="0" y="0" font-size="24" font-weight="bold" text-anchor="middle" transform="translate(1307.00 646.40) rotate(-90) scale(1 1.0)">MTT intensity [% ctr]</text>
<line x1="1390.30" y1="758.80" x2="1443.70" y2="758.80" stroke="#000" stroke-width="3.8" stroke-linecap="round"/>
<line x1="1459.90" y1="758.80" x2="1513.30" y2="758.80" stroke="#000" stroke-width="3.8" stroke-linecap="round"/>
<line x1="1529.90" y1="758.80" x2="1583.90" y2="758.80" stroke="#000" stroke-width="3.8" stroke-linecap="round"/>
<line x1="1599.50" y1="758.80" x2="1653.50" y2="758.80" stroke="#000" stroke-width="3.8" stroke-linecap="round"/>
<line x1="1669.30" y1="758.80" x2="1723.70" y2="758.80" stroke="#000" stroke-width="3.8" stroke-linecap="round"/>
<text x="1417.30" y="783.90" font-size="24.40" font-weight="bold" text-anchor="middle" fill="#000">0</text>
<text x="1487.00" y="783.90" font-size="24.40" font-weight="bold" text-anchor="middle" fill="#000">4</text>
<text x="1557.90" y="783.90" font-size="24.40" font-weight="bold" text-anchor="middle" fill="#000">16</text>
<text x="1627.90" y="783.90" font-size="24.40" font-weight="bold" text-anchor="middle" fill="#000">64</text>
<text x="1696.30" y="783.90" font-size="24.40" font-weight="bold" text-anchor="middle" fill="#000">256</text>
<line x1="1390.30" y1="796.60" x2="1723.70" y2="796.60" stroke="#000" stroke-width="3.8" stroke-linecap="round"/>
<text x="1565.00" y="825.70" font-size="24.40" font-weight="bold" text-anchor="middle" fill="#000">FLAG-TNC-TRAILmutR2 [ng/ml]</text>
<text x="1564.00" y="854.80" font-size="24.40" font-weight="bold" text-anchor="middle" fill="#000">+ 1 µg/ml anti-FLAG</text>
<rect x="1390.90" y="539.30" width="14.2" height="14.2" fill="#1c945d"/>
<rect x="1398.40" y="539.30" width="14.2" height="14.2" fill="#1c945d"/>
<rect x="1405.80" y="539.30" width="14.2" height="14.2" fill="#1c945d"/>
<circle cx="1429.80" cy="557.20" r="6.9" fill="#fcc386"/>
<circle cx="1437.80" cy="565.80" r="6.9" fill="#fcc386"/>
<circle cx="1445.20" cy="564.00" r="6.9" fill="#fcc386"/>
<rect x="1468.70" y="542.00" width="14.2" height="14.2" fill="#1c945d"/>
<rect x="1483.90" y="551.20" width="14.2" height="14.2" fill="#1c945d"/>
<rect x="1476.40" y="552.30" width="14.2" height="14.2" fill="#1c945d"/>
<circle cx="1497.30" cy="574.00" r="6.9" fill="#fcc386"/>
<circle cx="1504.70" cy="581.50" r="6.9" fill="#fcc386"/>
<circle cx="1512.70" cy="578.40" r="6.9" fill="#fcc386"/>
<rect x="1536.80" y="552.20" width="14.2" height="14.2" fill="#1c945d"/>
<rect x="1551.90" y="558.90" width="14.2" height="14.2" fill="#1c945d"/>
<rect x="1544.50" y="566.90" width="14.2" height="14.2" fill="#1c945d"/>
<circle cx="1565.40" cy="591.20" r="6.9" fill="#fcc386"/>
<circle cx="1572.60" cy="599.50" r="6.9" fill="#fcc386"/>
<circle cx="1580.30" cy="598.40" r="6.9" fill="#fcc386"/>
<rect x="1604.50" y="563.10" width="14.2" height="14.2" fill="#1c945d"/>
<rect x="1620.50" y="566.00" width="14.2" height="14.2" fill="#1c945d"/>
<rect x="1612.40" y="587.60" width="14.2" height="14.2" fill="#1c945d"/>
<circle cx="1640.10" cy="633.90" r="6.9" fill="#fcc386"/>
<circle cx="1632.10" cy="654.50" r="6.9" fill="#fcc386"/>
<circle cx="1648.70" cy="653.00" r="6.9" fill="#fcc386"/>
<rect x="1664.40" y="560.20" width="14.2" height="14.2" fill="#1c945d"/>
<rect x="1680.90" y="571.10" width="14.2" height="14.2" fill="#1c945d"/>
<rect x="1672.40" y="599.90" width="14.2" height="14.2" fill="#1c945d"/>
<circle cx="1707.60" cy="682.30" r="6.9" fill="#fcc386"/>
<circle cx="1699.60" cy="709.50" r="6.9" fill="#fcc386"/>
<circle cx="1716.20" cy="703.50" r="6.9" fill="#fcc386"/>
<line x1="1389.90" y1="546.70" x2="1421.10" y2="546.70" stroke="#000" stroke-width="3.4" stroke-linecap="round"/>
<line x1="1421.90" y1="562.40" x2="1453.10" y2="562.40" stroke="#000" stroke-width="3.4" stroke-linecap="round"/>
<line x1="1429.95" y1="560.20" x2="1445.05" y2="560.20" stroke="#000" stroke-width="3.4" stroke-linecap="round"/>
<line x1="1429.95" y1="564.60" x2="1445.05" y2="564.60" stroke="#000" stroke-width="3.4" stroke-linecap="round"/>
<line x1="1437.50" y1="560.20" x2="1437.50" y2="564.60" stroke="#000" stroke-width="3.4" stroke-linecap="butt"/>
<line x1="1468.00" y1="555.70" x2="1499.20" y2="555.70" stroke="#000" stroke-width="3.4" stroke-linecap="round"/>
<line x1="1476.05" y1="552.90" x2="1491.15" y2="552.90" stroke="#000" stroke-width="3.4" stroke-linecap="round"/>
<line x1="1476.05" y1="558.80" x2="1491.15" y2="558.80" stroke="#000" stroke-width="3.4" stroke-linecap="round"/>
<line x1="1483.60" y1="552.90" x2="1483.60" y2="558.80" stroke="#000" stroke-width="3.4" stroke-linecap="butt"/>
<line x1="1489.40" y1="578.40" x2="1520.60" y2="578.40" stroke="#000" stroke-width="3.4" stroke-linecap="round"/>
<line x1="1497.45" y1="576.20" x2="1512.55" y2="576.20" stroke="#000" stroke-width="3.4" stroke-linecap="round"/>
<line x1="1497.45" y1="580.20" x2="1512.55" y2="580.20" stroke="#000" stroke-width="3.4" stroke-linecap="round"/>
<line x1="1505.00" y1="576.20" x2="1505.00" y2="580.20" stroke="#000" stroke-width="3.4" stroke-linecap="butt"/>
<line x1="1536.00" y1="566.40" x2="1567.20" y2="566.40" stroke="#000" stroke-width="3.4" stroke-linecap="round"/>
<line x1="1544.05" y1="562.10" x2="1559.15" y2="562.10" stroke="#000" stroke-width="3.4" stroke-linecap="round"/>
<line x1="1544.05" y1="571.00" x2="1559.15" y2="571.00" stroke="#000" stroke-width="3.4" stroke-linecap="round"/>
<line x1="1551.60" y1="562.10" x2="1551.60" y2="571.00" stroke="#000" stroke-width="3.4" stroke-linecap="butt"/>
<line x1="1557.70" y1="596.90" x2="1588.90" y2="596.90" stroke="#000" stroke-width="3.4" stroke-linecap="round"/>
<line x1="1565.75" y1="594.80" x2="1580.85" y2="594.80" stroke="#000" stroke-width="3.4" stroke-linecap="round"/>
<line x1="1565.75" y1="598.90" x2="1580.85" y2="598.90" stroke="#000" stroke-width="3.4" stroke-linecap="round"/>
<line x1="1573.30" y1="594.80" x2="1573.30" y2="598.90" stroke="#000" stroke-width="3.4" stroke-linecap="butt"/>
<line x1="1604.10" y1="579.30" x2="1635.30" y2="579.30" stroke="#000" stroke-width="3.4" stroke-linecap="round"/>
<line x1="1612.15" y1="572.10" x2="1627.25" y2="572.10" stroke="#000" stroke-width="3.4" stroke-linecap="round"/>
<line x1="1612.15" y1="587.30" x2="1627.25" y2="587.30" stroke="#000" stroke-width="3.4" stroke-linecap="round"/>
<line x1="1619.70" y1="572.10" x2="1619.70" y2="587.30" stroke="#000" stroke-width="3.4" stroke-linecap="butt"/>
<line x1="1624.80" y1="647.00" x2="1656.00" y2="647.00" stroke="#000" stroke-width="3.4" stroke-linecap="round"/>
<line x1="1632.85" y1="640.50" x2="1647.95" y2="640.50" stroke="#000" stroke-width="3.4" stroke-linecap="round"/>
<line x1="1632.85" y1="653.70" x2="1647.95" y2="653.70" stroke="#000" stroke-width="3.4" stroke-linecap="round"/>
<line x1="1640.40" y1="640.50" x2="1640.40" y2="653.70" stroke="#000" stroke-width="3.4" stroke-linecap="butt"/>
<line x1="1664.00" y1="584.40" x2="1695.20" y2="584.40" stroke="#000" stroke-width="3.4" stroke-linecap="round"/>
<line x1="1672.05" y1="572.40" x2="1687.15" y2="572.40" stroke="#000" stroke-width="3.4" stroke-linecap="round"/>
<line x1="1672.05" y1="595.90" x2="1687.15" y2="595.90" stroke="#000" stroke-width="3.4" stroke-linecap="round"/>
<line x1="1679.60" y1="572.40" x2="1679.60" y2="595.90" stroke="#000" stroke-width="3.4" stroke-linecap="butt"/>
<line x1="1692.10" y1="698.10" x2="1723.30" y2="698.10" stroke="#000" stroke-width="3.4" stroke-linecap="round"/>
<line x1="1700.15" y1="690.00" x2="1715.25" y2="690.00" stroke="#000" stroke-width="3.4" stroke-linecap="round"/>
<line x1="1700.15" y1="706.40" x2="1715.25" y2="706.40" stroke="#000" stroke-width="3.4" stroke-linecap="round"/>
<line x1="1707.70" y1="690.00" x2="1707.70" y2="706.40" stroke="#000" stroke-width="3.4" stroke-linecap="butt"/>
<path d="M1553.00 546.90 V534.80 H1575.70 V580.90" stroke="#000" stroke-width="3.4" fill="none" stroke-linecap="round" stroke-linejoin="miter"/>
<text x="1566.17" y="537.09" font-size="19.4" font-weight="bold" text-anchor="middle" letter-spacing="1.35">**</text>
<path d="M1620.70 558.90 V546.70 H1643.30 V621.00" stroke="#000" stroke-width="3.4" fill="none" stroke-linecap="round" stroke-linejoin="miter"/>
<text x="1634.08" y="548.59" font-size="19.4" font-weight="bold" text-anchor="middle" letter-spacing="1.35">**</text>
<path d="M1679.80 552.60 V540.60 H1709.60 V668.60" stroke="#000" stroke-width="3.4" fill="none" stroke-linecap="round" stroke-linejoin="miter"/>
<text x="1695.67" y="542.39" font-size="19.4" font-weight="bold" text-anchor="middle" letter-spacing="1.35">**</text>
<text x="-0.60" y="858.90" font-size="41.60" font-weight="bold" text-anchor="start" fill="#000">d</text>
<text x="51.60" y="946.80" font-size="24.40" font-weight="bold" text-anchor="start" fill="#000">HCT116</text>
<rect x="156.20" y="957.80" width="20.2" height="20.2" fill="#1c945d"/>
<text x="183.60" y="975.60" font-size="24.40" font-weight="bold" text-anchor="start" fill="#000">Medium</text>
<circle cx="303.60" cy="967.60" r="10.2" fill="#fcc386"/>
<text x="322.40" y="975.60" font-size="24.40" font-weight="bold" text-anchor="start" fill="#000">+75 mM NaCl</text>
<path d="M141.40 992.80 V1217.40 H512.00" stroke="#000" stroke-width="3.4" fill="none" stroke-linecap="round" stroke-linejoin="miter"/>
<line x1="135.20" y1="1217.40" x2="139.70" y2="1217.40" stroke="#000" stroke-width="3.4" stroke-linecap="round"/>
<text x="127.60" y="1226.00" font-size="24.40" font-weight="bold" text-anchor="end" fill="#000">0</text>
<line x1="135.20" y1="1167.60" x2="139.70" y2="1167.60" stroke="#000" stroke-width="3.4" stroke-linecap="round"/>
<text x="127.60" y="1176.20" font-size="24.40" font-weight="bold" text-anchor="end" fill="#000">25</text>
<line x1="135.20" y1="1117.10" x2="139.70" y2="1117.10" stroke="#000" stroke-width="3.4" stroke-linecap="round"/>
<text x="127.60" y="1125.70" font-size="24.40" font-weight="bold" text-anchor="end" fill="#000">50</text>
<line x1="135.20" y1="1066.60" x2="139.70" y2="1066.60" stroke="#000" stroke-width="3.4" stroke-linecap="round"/>
<text x="127.60" y="1075.20" font-size="24.40" font-weight="bold" text-anchor="end" fill="#000">75</text>
<line x1="135.20" y1="1016.10" x2="139.70" y2="1016.10" stroke="#000" stroke-width="3.4" stroke-linecap="round"/>
<text x="127.60" y="1024.70" font-size="24.40" font-weight="bold" text-anchor="end" fill="#000">100</text>
<text x="0" y="0" font-size="24" font-weight="bold" text-anchor="middle" transform="translate(72.40 1114.30) rotate(-90) scale(1 1.0)">MTT intensity [% ctr]</text>
<line x1="162.10" y1="1228.00" x2="216.00" y2="1228.00" stroke="#000" stroke-width="3.8" stroke-linecap="round"/>
<line x1="231.60" y1="1228.00" x2="285.50" y2="1228.00" stroke="#000" stroke-width="3.8" stroke-linecap="round"/>
<line x1="301.50" y1="1228.00" x2="355.40" y2="1228.00" stroke="#000" stroke-width="3.8" stroke-linecap="round"/>
<line x1="371.20" y1="1228.00" x2="425.40" y2="1228.00" stroke="#000" stroke-width="3.8" stroke-linecap="round"/>
<line x1="440.90" y1="1228.00" x2="495.10" y2="1228.00" stroke="#000" stroke-width="3.8" stroke-linecap="round"/>
<text x="189.00" y="1252.60" font-size="24.40" font-weight="bold" text-anchor="middle" fill="#000">0</text>
<text x="258.60" y="1252.60" font-size="24.40" font-weight="bold" text-anchor="middle" fill="#000">4</text>
<text x="329.70" y="1252.60" font-size="24.40" font-weight="bold" text-anchor="middle" fill="#000">16</text>
<text x="399.70" y="1252.60" font-size="24.40" font-weight="bold" text-anchor="middle" fill="#000">64</text>
<text x="467.80" y="1252.60" font-size="24.40" font-weight="bold" text-anchor="middle" fill="#000">256</text>
<line x1="166.30" y1="1268.40" x2="499.90" y2="1268.40" stroke="#000" stroke-width="3.8" stroke-linecap="round"/>
<text x="340.00" y="1298.60" font-size="24.40" font-weight="bold" text-anchor="middle" fill="#000">Conatumumab [ng/ml]</text>
<text x="340.60" y="1327.60" font-size="24.40" font-weight="bold" text-anchor="middle" fill="#000">+ 1 µg/ml protein G</text>
<rect x="159.20" y="1007.80" width="14.2" height="14.2" fill="#1c945d"/>
<rect x="166.50" y="1007.80" width="14.2" height="14.2" fill="#1c945d"/>
<rect x="173.80" y="1007.80" width="14.2" height="14.2" fill="#1c945d"/>
<circle cx="199.20" cy="1010.30" r="6.9" fill="#fcc386"/>
<circle cx="215.80" cy="1013.20" r="6.9" fill="#fcc386"/>
<circle cx="207.20" cy="1032.60" r="6.9" fill="#fcc386"/>
<rect x="236.90" y="1011.10" width="14.2" height="14.2" fill="#1c945d"/>
<rect x="252.40" y="1022.90" width="14.2" height="14.2" fill="#1c945d"/>
<rect x="244.50" y="1027.70" width="14.2" height="14.2" fill="#1c945d"/>
<circle cx="283.90" cy="1010.00" r="6.9" fill="#fcc386"/>
<circle cx="291.30" cy="1034.90" r="6.9" fill="#fcc386"/>
<circle cx="275.50" cy="1043.50" r="6.9" fill="#fcc386"/>
<rect x="310.10" y="1023.10" width="14.2" height="14.2" fill="#1c945d"/>
<rect x="325.10" y="1023.10" width="14.2" height="14.2" fill="#1c945d"/>
<rect x="317.60" y="1035.50" width="14.2" height="14.2" fill="#1c945d"/>
<circle cx="351.70" cy="1030.00" r="6.9" fill="#fcc386"/>
<circle cx="359.70" cy="1041.00" r="6.9" fill="#fcc386"/>
<circle cx="343.80" cy="1054.90" r="6.9" fill="#fcc386"/>
<rect x="379.30" y="1022.40" width="14.2" height="14.2" fill="#1c945d"/>
<rect x="393.90" y="1034.90" width="14.2" height="14.2" fill="#1c945d"/>
<rect x="386.40" y="1038.40" width="14.2" height="14.2" fill="#1c945d"/>
<circle cx="415.20" cy="1060.10" r="6.9" fill="#fcc386"/>
<circle cx="407.00" cy="1099.00" r="6.9" fill="#fcc386"/>
<circle cx="423.60" cy="1096.10" r="6.9" fill="#fcc386"/>
<rect x="447.90" y="1013.50" width="14.2" height="14.2" fill="#1c945d"/>
<rect x="456.10" y="1041.40" width="14.2" height="14.2" fill="#1c945d"/>
<rect x="439.60" y="1057.70" width="14.2" height="14.2" fill="#1c945d"/>
<circle cx="476.90" cy="1161.80" r="6.9" fill="#fcc386"/>
<circle cx="468.70" cy="1182.40" r="6.9" fill="#fcc386"/>
<circle cx="485.30" cy="1177.80" r="6.9" fill="#fcc386"/>
<line x1="157.90" y1="1014.90" x2="189.10" y2="1014.90" stroke="#000" stroke-width="3.4" stroke-linecap="round"/>
<line x1="191.90" y1="1018.70" x2="223.10" y2="1018.70" stroke="#000" stroke-width="3.4" stroke-linecap="round"/>
<line x1="199.95" y1="1012.00" x2="215.05" y2="1012.00" stroke="#000" stroke-width="3.4" stroke-linecap="round"/>
<line x1="199.95" y1="1025.80" x2="215.05" y2="1025.80" stroke="#000" stroke-width="3.4" stroke-linecap="round"/>
<line x1="207.50" y1="1012.00" x2="207.50" y2="1025.80" stroke="#000" stroke-width="3.4" stroke-linecap="butt"/>
<line x1="236.10" y1="1027.50" x2="267.30" y2="1027.50" stroke="#000" stroke-width="3.4" stroke-linecap="round"/>
<line x1="244.15" y1="1022.90" x2="259.25" y2="1022.90" stroke="#000" stroke-width="3.4" stroke-linecap="round"/>
<line x1="244.15" y1="1032.60" x2="259.25" y2="1032.60" stroke="#000" stroke-width="3.4" stroke-linecap="round"/>
<line x1="251.70" y1="1022.90" x2="251.70" y2="1032.60" stroke="#000" stroke-width="3.4" stroke-linecap="butt"/>
<line x1="268.30" y1="1029.40" x2="299.50" y2="1029.40" stroke="#000" stroke-width="3.4" stroke-linecap="round"/>
<line x1="276.35" y1="1019.20" x2="291.45" y2="1019.20" stroke="#000" stroke-width="3.4" stroke-linecap="round"/>
<line x1="276.35" y1="1039.50" x2="291.45" y2="1039.50" stroke="#000" stroke-width="3.4" stroke-linecap="round"/>
<line x1="283.90" y1="1019.20" x2="283.90" y2="1039.50" stroke="#000" stroke-width="3.4" stroke-linecap="butt"/>
<line x1="309.40" y1="1034.70" x2="340.60" y2="1034.70" stroke="#000" stroke-width="3.4" stroke-linecap="round"/>
<line x1="317.45" y1="1030.30" x2="332.55" y2="1030.30" stroke="#000" stroke-width="3.4" stroke-linecap="round"/>
<line x1="317.45" y1="1039.30" x2="332.55" y2="1039.30" stroke="#000" stroke-width="3.4" stroke-linecap="round"/>
<line x1="325.00" y1="1030.30" x2="325.00" y2="1039.30" stroke="#000" stroke-width="3.4" stroke-linecap="butt"/>
<line x1="336.40" y1="1042.40" x2="367.60" y2="1042.40" stroke="#000" stroke-width="3.4" stroke-linecap="round"/>
<line x1="344.45" y1="1035.70" x2="359.55" y2="1035.70" stroke="#000" stroke-width="3.4" stroke-linecap="round"/>
<line x1="344.45" y1="1049.50" x2="359.55" y2="1049.50" stroke="#000" stroke-width="3.4" stroke-linecap="round"/>
<line x1="352.00" y1="1035.70" x2="352.00" y2="1049.50" stroke="#000" stroke-width="3.4" stroke-linecap="butt"/>
<line x1="378.20" y1="1039.20" x2="409.40" y2="1039.20" stroke="#000" stroke-width="3.4" stroke-linecap="round"/>
<line x1="386.25" y1="1033.40" x2="401.35" y2="1033.40" stroke="#000" stroke-width="3.4" stroke-linecap="round"/>
<line x1="386.25" y1="1044.30" x2="401.35" y2="1044.30" stroke="#000" stroke-width="3.4" stroke-linecap="round"/>
<line x1="393.80" y1="1033.40" x2="393.80" y2="1044.30" stroke="#000" stroke-width="3.4" stroke-linecap="butt"/>
<line x1="400.00" y1="1085.00" x2="431.20" y2="1085.00" stroke="#000" stroke-width="3.4" stroke-linecap="round"/>
<line x1="408.05" y1="1072.40" x2="423.15" y2="1072.40" stroke="#000" stroke-width="3.4" stroke-linecap="round"/>
<line x1="408.05" y1="1097.80" x2="423.15" y2="1097.80" stroke="#000" stroke-width="3.4" stroke-linecap="round"/>
<line x1="415.60" y1="1072.40" x2="415.60" y2="1097.80" stroke="#000" stroke-width="3.4" stroke-linecap="butt"/>
<line x1="439.40" y1="1044.60" x2="470.60" y2="1044.60" stroke="#000" stroke-width="3.4" stroke-linecap="round"/>
<line x1="447.45" y1="1031.80" x2="462.55" y2="1031.80" stroke="#000" stroke-width="3.4" stroke-linecap="round"/>
<line x1="447.45" y1="1057.60" x2="462.55" y2="1057.60" stroke="#000" stroke-width="3.4" stroke-linecap="round"/>
<line x1="455.00" y1="1031.80" x2="455.00" y2="1057.60" stroke="#000" stroke-width="3.4" stroke-linecap="butt"/>
<line x1="461.20" y1="1173.40" x2="492.40" y2="1173.40" stroke="#000" stroke-width="3.4" stroke-linecap="round"/>
<line x1="469.25" y1="1167.30" x2="484.35" y2="1167.30" stroke="#000" stroke-width="3.4" stroke-linecap="round"/>
<line x1="469.25" y1="1179.50" x2="484.35" y2="1179.50" stroke="#000" stroke-width="3.4" stroke-linecap="round"/>
<line x1="476.80" y1="1167.30" x2="476.80" y2="1179.50" stroke="#000" stroke-width="3.4" stroke-linecap="butt"/>
<path d="M394.60 1017.20 V1005.40 H417.30 V1045.80" stroke="#000" stroke-width="3.4" fill="none" stroke-linecap="round" stroke-linejoin="miter"/>
<text x="406.78" y="1007.59" font-size="19.4" font-weight="bold" text-anchor="middle" letter-spacing="1.35">*</text>
<path d="M455.30 1008.60 V996.60 H478.50 V1147.20" stroke="#000" stroke-width="3.4" fill="none" stroke-linecap="round" stroke-linejoin="miter"/>
<text x="467.48" y="998.79" font-size="19.4" font-weight="bold" text-anchor="middle" letter-spacing="1.35">***</text>
<text x="539.60" y="858.90" font-size="41.60" font-weight="bold" text-anchor="start" fill="#000">e</text>
<text x="559.80" y="883.30" font-size="24.40" font-weight="bold" text-anchor="start" fill="#000">SK-Mel-3</text>
<rect x="665.00" y="910.80" width="20.8" height="20.8" fill="#1c945d"/>
<text x="692.40" y="929.40" font-size="24.40" font-weight="bold" text-anchor="start" fill="#000">Medium</text>
<text x="664.10" y="958.80" font-size="24.4" font-weight="bold">R<tspan font-size="13.2" font-weight="normal" stroke="#000" stroke-width="0.45" dy="-8.4" dx="0.7">2</tspan><tspan dy="8.4">: 0.9990</tspan></text>
<text x="664.10" y="992.60" font-size="24.4" font-weight="bold">K<tspan font-size="20.4" font-weight="normal" stroke="#000" stroke-width="0.7" dy="6.7" dx="-0.2">D</tspan><tspan dy="-6.7" dx="0.5">: 4820 pM</tspan></text>
<circle cx="892.90" cy="920.20" r="10.8" fill="#fcc386"/>
<text x="912.20" y="929.40" font-size="24.40" font-weight="bold" text-anchor="start" fill="#000">+75 mM NaCl</text>
<text x="884.70" y="958.80" font-size="24.4" font-weight="bold">R<tspan font-size="13.2" font-weight="normal" stroke="#000" stroke-width="0.45" dy="-8.4" dx="0.7">2</tspan><tspan dy="8.4">: 0.9991</tspan></text>
<text x="884.70" y="992.60" font-size="24.4" font-weight="bold">K<tspan font-size="20.4" font-weight="normal" stroke="#000" stroke-width="0.7" dy="6.7" dx="-0.2">D</tspan><tspan dy="-6.7" dx="0.5">: 2320 pM</tspan></text>
<path d="M740.00 1004.90 V1015.90 H956.80 V1004.90" stroke="#000" stroke-width="3.4" fill="none" stroke-linecap="round" stroke-linejoin="miter"/>
<text x="855.50" y="1036.50" font-size="24.40" font-weight="bold" text-anchor="middle" fill="#000">n.s.</text>
<path d="M664.50 1030.70 V1325.90 H1111.00" stroke="#000" stroke-width="3.4" fill="none" stroke-linecap="round" stroke-linejoin="miter"/>
<line x1="664.50" y1="1325.90" x2="664.50" y2="1337.10" stroke="#000" stroke-width="3.4" stroke-linecap="butt"/>
<text x="663.40" y="1368.10" font-size="24.40" font-weight="bold" text-anchor="middle" fill="#000">0</text>
<line x1="776.00" y1="1325.90" x2="776.00" y2="1337.10" stroke="#000" stroke-width="3.4" stroke-linecap="butt"/>
<text x="775.60" y="1368.10" font-size="24.40" font-weight="bold" text-anchor="middle" fill="#000">1000</text>
<line x1="887.60" y1="1325.90" x2="887.60" y2="1337.10" stroke="#000" stroke-width="3.4" stroke-linecap="butt"/>
<text x="887.30" y="1368.10" font-size="24.40" font-weight="bold" text-anchor="middle" fill="#000">2000</text>
<line x1="999.20" y1="1325.90" x2="999.20" y2="1337.10" stroke="#000" stroke-width="3.4" stroke-linecap="butt"/>
<text x="998.90" y="1368.10" font-size="24.40" font-weight="bold" text-anchor="middle" fill="#000">3000</text>
<line x1="1110.60" y1="1325.90" x2="1110.60" y2="1337.10" stroke="#000" stroke-width="3.4" stroke-linecap="butt"/>
<text x="1110.40" y="1368.10" font-size="24.40" font-weight="bold" text-anchor="middle" fill="#000">4000</text>
<line x1="655.50" y1="1327.60" x2="664.50" y2="1327.60" stroke="#000" stroke-width="3.4" stroke-linecap="round"/>
<text x="647.80" y="1337.30" font-size="24.40" font-weight="bold" text-anchor="end" fill="#000">0</text>
<line x1="655.50" y1="1268.80" x2="664.50" y2="1268.80" stroke="#000" stroke-width="3.4" stroke-linecap="round"/>
<text x="647.80" y="1278.50" font-size="24.40" font-weight="bold" text-anchor="end" fill="#000">0.5</text>
<line x1="655.50" y1="1209.20" x2="664.50" y2="1209.20" stroke="#000" stroke-width="3.4" stroke-linecap="round"/>
<text x="647.80" y="1218.90" font-size="24.40" font-weight="bold" text-anchor="end" fill="#000">1</text>
<line x1="655.50" y1="1149.60" x2="664.50" y2="1149.60" stroke="#000" stroke-width="3.4" stroke-linecap="round"/>
<text x="647.80" y="1159.30" font-size="24.40" font-weight="bold" text-anchor="end" fill="#000">1.5</text>
<line x1="655.50" y1="1090.00" x2="664.50" y2="1090.00" stroke="#000" stroke-width="3.4" stroke-linecap="round"/>
<text x="647.80" y="1099.70" font-size="24.40" font-weight="bold" text-anchor="end" fill="#000">2</text>
<text x="895.00" y="1403.00" font-size="24.40" font-weight="bold" text-anchor="middle" fill="#000">GpL-FLAG-TNC-TRAIL [pM]</text>
<text x="598.40" y="1189.00" font-size="24.4" font-weight="bold" text-anchor="middle" transform="rotate(-90 598.40 1189.00)">specific binding [RLU x 10<tspan font-size="21.5" dy="-6.4">6</tspan><tspan dy="6.4">]</tspan></text>
<rect x="977.00" y="1093.90" width="18.0" height="18.0" fill="#1c945d"/>
<rect x="816.40" y="1159.10" width="18.0" height="18.0" fill="#1c945d"/>
<rect x="735.40" y="1226.40" width="18.0" height="18.0" fill="#1c945d"/>
<rect x="694.50" y="1268.40" width="18.0" height="18.0" fill="#1c945d"/>
<rect x="675.71" y="1288.74" width="18.0" height="18.0" fill="#1c945d"/>
<rect x="665.55" y="1302.42" width="18.0" height="18.0" fill="#1c945d"/>
<rect x="660.52" y="1309.53" width="18.0" height="18.0" fill="#1c945d"/>
<rect x="657.96" y="1313.27" width="18.0" height="18.0" fill="#1c945d"/>
<rect x="655.50" y="1316.90" width="18.0" height="18.0" fill="#1c945d"/>
<circle cx="986.30" cy="1151.00" r="8.9" fill="#fcc386"/>
<circle cx="825.40" cy="1195.90" r="8.9" fill="#fcc386"/>
<circle cx="745.30" cy="1248.80" r="8.9" fill="#fcc386"/>
<circle cx="705.20" cy="1280.30" r="8.9" fill="#fcc386"/>
<circle cx="684.71" cy="1299.39" r="8.9" fill="#fcc386"/>
<circle cx="674.55" cy="1312.08" r="8.9" fill="#fcc386"/>
<circle cx="669.52" cy="1318.82" r="8.9" fill="#fcc386"/>
<circle cx="666.96" cy="1322.40" r="8.9" fill="#fcc386"/>
<circle cx="664.50" cy="1325.90" r="8.9" fill="#fcc386"/>
<path d="M664.50 1325.90 L666.36 1323.14 L668.22 1320.42 L670.09 1317.73 L671.95 1315.07 L673.81 1312.45 L675.67 1309.86 L677.54 1307.30 L679.40 1304.77 L681.26 1302.28 L683.12 1299.81 L684.98 1297.38 L686.85 1294.97 L688.71 1292.60 L690.57 1290.25 L692.43 1287.93 L694.30 1285.64 L696.16 1283.37 L698.02 1281.13 L699.88 1278.92 L701.74 1276.73 L703.61 1274.57 L705.47 1272.43 L707.33 1270.31 L709.19 1268.22 L711.06 1266.16 L712.92 1264.11 L714.78 1262.09 L716.64 1260.09 L718.50 1258.11 L720.37 1256.16 L722.23 1254.22 L724.09 1252.31 L725.95 1250.41 L727.82 1248.54 L729.68 1246.69 L731.54 1244.85 L733.40 1243.04 L735.26 1241.24 L737.13 1239.46 L738.99 1237.71 L740.85 1235.96 L742.71 1234.24 L744.58 1232.54 L746.44 1230.85 L748.30 1229.18 L750.16 1227.52 L752.02 1225.88 L753.89 1224.26 L755.75 1222.66 L757.61 1221.07 L759.47 1219.49 L761.34 1217.93 L763.20 1216.39 L765.06 1214.86 L766.92 1213.34 L768.78 1211.84 L770.65 1210.36 L772.51 1208.88 L774.37 1207.43 L776.23 1205.98 L778.10 1204.55 L779.96 1203.13 L781.82 1201.73 L783.68 1200.34 L785.54 1198.96 L787.41 1197.59 L789.27 1196.24 L791.13 1194.89 L792.99 1193.56 L794.86 1192.24 L796.72 1190.94 L798.58 1189.64 L800.44 1188.36 L802.30 1187.09 L804.17 1185.83 L806.03 1184.58 L807.89 1183.34 L809.75 1182.11 L811.62 1180.89 L813.48 1179.68 L815.34 1178.49 L817.20 1177.30 L819.07 1176.12 L820.93 1174.95 L822.79 1173.80 L824.65 1172.65 L826.51 1171.51 L828.38 1170.38 L830.24 1169.26 L832.10 1168.15 L833.96 1167.05 L835.83 1165.96 L837.69 1164.87 L839.55 1163.80 L841.41 1162.73 L843.27 1161.68 L845.14 1160.63 L847.00 1159.59 L848.86 1158.55 L850.72 1157.53 L852.59 1156.51 L854.45 1155.50 L856.31 1154.50 L858.17 1153.51 L860.03 1152.53 L861.90 1151.55 L863.76 1150.58 L865.62 1149.62 L867.48 1148.66 L869.35 1147.71 L871.21 1146.77 L873.07 1145.84 L874.93 1144.91 L876.79 1143.99 L878.66 1143.08 L880.52 1142.17 L882.38 1141.27 L884.24 1140.38 L886.11 1139.49 L887.97 1138.61 L889.83 1137.74 L891.69 1136.87 L893.55 1136.01 L895.42 1135.15 L897.28 1134.31 L899.14 1133.46 L901.00 1132.63 L902.87 1131.80 L904.73 1130.97 L906.59 1130.15 L908.45 1129.34 L910.31 1128.53 L912.18 1127.73 L914.04 1126.93 L915.90 1126.14 L917.76 1125.36 L919.63 1124.58 L921.49 1123.80 L923.35 1123.03 L925.21 1122.27 L927.07 1121.51 L928.94 1120.76 L930.80 1120.01 L932.66 1119.26 L934.52 1118.52 L936.39 1117.79 L938.25 1117.06 L940.11 1116.34 L941.97 1115.62 L943.83 1114.90 L945.70 1114.19 L947.56 1113.49 L949.42 1112.79 L951.28 1112.09 L953.15 1111.40 L955.01 1110.71 L956.87 1110.03 L958.73 1109.35 L960.59 1108.68 L962.46 1108.01 L964.32 1107.34 L966.18 1106.68 L968.04 1106.03 L969.91 1105.37 L971.77 1104.72 L973.63 1104.08 L975.49 1103.44 L977.35 1102.80 L979.22 1102.17 L981.08 1101.54 L982.94 1100.91 L984.80 1100.29 L986.67 1099.68 L988.53 1099.06 L990.39 1098.45 L992.25 1097.85 L994.11 1097.24 L995.98 1096.64 L997.84 1096.05 L999.70 1095.46 L1001.56 1094.87 L1003.43 1094.28 L1005.29 1093.70 L1007.15 1093.13 L1009.01 1092.55 L1010.87 1091.98 L1012.74 1091.41 L1014.60 1090.85 L1016.46 1090.29 L1018.32 1089.73 L1020.19 1089.17 L1022.05 1088.62 L1023.91 1088.08 L1025.77 1087.53 L1027.63 1086.99 L1029.50 1086.45 L1031.36 1085.91 L1033.22 1085.38 L1035.08 1084.85 L1036.95 1084.33 L1038.81 1083.80 L1040.67 1083.28 L1042.53 1082.76 L1044.39 1082.25 L1046.26 1081.74 L1048.12 1081.23 L1049.98 1080.72 L1051.84 1080.22 L1053.71 1079.72 L1055.57 1079.22 L1057.43 1078.72 L1059.29 1078.23 L1061.15 1077.74 L1063.02 1077.25 L1064.88 1076.77 L1066.74 1076.29 L1068.60 1075.81 L1070.47 1075.33 L1072.33 1074.86 L1074.19 1074.38 L1076.05 1073.91 L1077.91 1073.45 L1079.78 1072.98 L1081.64 1072.52 L1083.50 1072.06 L1085.36 1071.61 L1087.23 1071.15 L1089.09 1070.70 L1090.95 1070.25 L1092.81 1069.80 L1094.67 1069.36 L1096.54 1068.91 L1098.40 1068.47 L1100.26 1068.03 L1102.12 1067.60 L1103.99 1067.17 L1105.85 1066.73 L1107.71 1066.30 L1109.57 1065.88 L1111.43 1065.45" fill="none" stroke="#000" stroke-width="3.5" stroke-dasharray="2.6 6.3" stroke-linecap="round"/>
<path d="M664.50 1325.90 L666.36 1323.23 L668.23 1320.61 L670.09 1318.04 L671.96 1315.52 L673.82 1313.04 L675.68 1310.60 L677.55 1308.21 L679.41 1305.85 L681.28 1303.54 L683.14 1301.27 L685.00 1299.03 L686.87 1296.84 L688.73 1294.68 L690.60 1292.55 L692.46 1290.46 L694.33 1288.40 L696.19 1286.38 L698.05 1284.39 L699.92 1282.43 L701.78 1280.50 L703.65 1278.60 L705.51 1276.73 L707.37 1274.89 L709.24 1273.07 L711.10 1271.29 L712.97 1269.53 L714.83 1267.80 L716.69 1266.09 L718.56 1264.41 L720.42 1262.75 L722.29 1261.11 L724.15 1259.50 L726.01 1257.91 L727.88 1256.35 L729.74 1254.81 L731.61 1253.28 L733.47 1251.78 L735.34 1250.30 L737.20 1248.84 L739.06 1247.40 L740.93 1245.98 L742.79 1244.58 L744.66 1243.20 L746.52 1241.83 L748.38 1240.48 L750.25 1239.15 L752.11 1237.84 L753.98 1236.55 L755.84 1235.27 L757.70 1234.01 L759.57 1232.76 L761.43 1231.53 L763.30 1230.31 L765.16 1229.11 L767.02 1227.92 L768.89 1226.75 L770.75 1225.60 L772.62 1224.45 L774.48 1223.32 L776.35 1222.21 L778.21 1221.10 L780.07 1220.01 L781.94 1218.94 L783.80 1217.87 L785.67 1216.82 L787.53 1215.78 L789.39 1214.75 L791.26 1213.74 L793.12 1212.73 L794.99 1211.74 L796.85 1210.76 L798.71 1209.78 L800.58 1208.82 L802.44 1207.87 L804.31 1206.93 L806.17 1206.00 L808.03 1205.08 L809.90 1204.17 L811.76 1203.27 L813.63 1202.38 L815.49 1201.50 L817.36 1200.63 L819.22 1199.77 L821.08 1198.92 L822.95 1198.07 L824.81 1197.24 L826.68 1196.41 L828.54 1195.59 L830.40 1194.78 L832.27 1193.98 L834.13 1193.18 L836.00 1192.40 L837.86 1191.62 L839.72 1190.85 L841.59 1190.09 L843.45 1189.33 L845.32 1188.58 L847.18 1187.84 L849.04 1187.11 L850.91 1186.38 L852.77 1185.66 L854.64 1184.95 L856.50 1184.24 L858.37 1183.54 L860.23 1182.85 L862.09 1182.17 L863.96 1181.49 L865.82 1180.81 L867.69 1180.15 L869.55 1179.48 L871.41 1178.83 L873.28 1178.18 L875.14 1177.54 L877.01 1176.90 L878.87 1176.27 L880.73 1175.64 L882.60 1175.02 L884.46 1174.41 L886.33 1173.80 L888.19 1173.19 L890.05 1172.59 L891.92 1172.00 L893.78 1171.41 L895.65 1170.83 L897.51 1170.25 L899.38 1169.68 L901.24 1169.11 L903.10 1168.54 L904.97 1167.98 L906.83 1167.43 L908.70 1166.88 L910.56 1166.34 L912.42 1165.79 L914.29 1165.26 L916.15 1164.73 L918.02 1164.20 L919.88 1163.68 L921.74 1163.16 L923.61 1162.64 L925.47 1162.13 L927.34 1161.63 L929.20 1161.12 L931.06 1160.63 L932.93 1160.13 L934.79 1159.64 L936.66 1159.16 L938.52 1158.67 L940.39 1158.19 L942.25 1157.72 L944.11 1157.25 L945.98 1156.78 L947.84 1156.32 L949.71 1155.86 L951.57 1155.40 L953.43 1154.94 L955.30 1154.49 L957.16 1154.05 L959.03 1153.60 L960.89 1153.16 L962.75 1152.73 L964.62 1152.29 L966.48 1151.86 L968.35 1151.44 L970.21 1151.01 L972.07 1150.59 L973.94 1150.17 L975.80 1149.76 L977.67 1149.35 L979.53 1148.94 L981.40 1148.53 L983.26 1148.13 L985.12 1147.73 L986.99 1147.33 L988.85 1146.94 L990.72 1146.55 L992.58 1146.16 L994.44 1145.77 L996.31 1145.39 L998.17 1145.01 L1000.04 1144.63 L1001.90 1144.26 L1003.76 1143.88 L1005.63 1143.51 L1007.49 1143.14 L1009.36 1142.78 L1011.22 1142.42 L1013.08 1142.06 L1014.95 1141.70 L1016.81 1141.34 L1018.68 1140.99 L1020.54 1140.64 L1022.41 1140.29 L1024.27 1139.95 L1026.13 1139.60 L1028.00 1139.26 L1029.86 1138.92 L1031.73 1138.58 L1033.59 1138.25 L1035.45 1137.92 L1037.32 1137.59 L1039.18 1137.26 L1041.05 1136.93 L1042.91 1136.61 L1044.77 1136.29 L1046.64 1135.97 L1048.50 1135.65 L1050.37 1135.33 L1052.23 1135.02 L1054.09 1134.71 L1055.96 1134.40 L1057.82 1134.09 L1059.69 1133.78 L1061.55 1133.48 L1063.42 1133.18 L1065.28 1132.88 L1067.14 1132.58 L1069.01 1132.28 L1070.87 1131.99 L1072.74 1131.69 L1074.60 1131.40 L1076.46 1131.11 L1078.33 1130.83 L1080.19 1130.54 L1082.06 1130.25 L1083.92 1129.97 L1085.78 1129.69 L1087.65 1129.41 L1089.51 1129.13 L1091.38 1128.86 L1093.24 1128.58 L1095.10 1128.31 L1096.97 1128.04 L1098.83 1127.77 L1100.70 1127.50 L1102.56 1127.24 L1104.43 1126.97 L1106.29 1126.71 L1108.15 1126.45 L1110.02 1126.19 L1111.88 1125.93" fill="none" stroke="#000" stroke-width="3.5" stroke-dasharray="2.6 6.3" stroke-linecap="round"/>
<text x="1142.80" y="859.60" font-size="41.60" font-weight="bold" text-anchor="start" fill="#000">f</text>
<text x="1168.00" y="883.30" font-size="24.40" font-weight="bold" text-anchor="start" fill="#000">SK-Mel-3</text>
<rect x="1274.40" y="910.80" width="20.8" height="20.8" fill="#1c945d"/>
<text x="1302.80" y="929.40" font-size="24.40" font-weight="bold" text-anchor="start" fill="#000">Medium</text>
<text x="1274.20" y="958.80" font-size="24.4" font-weight="bold">R<tspan font-size="13.2" font-weight="normal" stroke="#000" stroke-width="0.45" dy="-8.4" dx="0.7">2</tspan><tspan dy="8.4">: 0.9969</tspan></text>
<text x="1274.20" y="992.60" font-size="24.4" font-weight="bold">K<tspan font-size="20.4" font-weight="normal" stroke="#000" stroke-width="0.7" dy="6.7" dx="-0.2">D</tspan><tspan dy="-6.7" dx="0.5">: 4860 pM</tspan></text>
<circle cx="1508.40" cy="920.60" r="10.8" fill="#fcc386"/>
<text x="1527.00" y="929.40" font-size="24.40" font-weight="bold" text-anchor="start" fill="#000">+75 mM NaCl</text>
<text x="1499.50" y="958.80" font-size="24.4" font-weight="bold">R<tspan font-size="13.2" font-weight="normal" stroke="#000" stroke-width="0.45" dy="-8.4" dx="0.7">2</tspan><tspan dy="8.4">: 0.9989</tspan></text>
<text x="1499.50" y="992.60" font-size="24.4" font-weight="bold">K<tspan font-size="20.4" font-weight="normal" stroke="#000" stroke-width="0.7" dy="6.7" dx="-0.2">D</tspan><tspan dy="-6.7" dx="0.5">: 5530 pM</tspan></text>
<path d="M1346.30 1004.90 V1015.90 H1563.00 V1004.90" stroke="#000" stroke-width="3.4" fill="none" stroke-linecap="round" stroke-linejoin="miter"/>
<text x="1461.60" y="1036.50" font-size="24.40" font-weight="bold" text-anchor="middle" fill="#000">n.s.</text>
<path d="M1272.50 1032.70 V1329.60 H1719.00" stroke="#000" stroke-width="3.4" fill="none" stroke-linecap="round" stroke-linejoin="miter"/>
<line x1="1272.50" y1="1329.60" x2="1272.50" y2="1340.80" stroke="#000" stroke-width="3.4" stroke-linecap="butt"/>
<text x="1278.60" y="0" font-size="24.4" font-weight="bold" text-anchor="middle" transform="translate(0 1363.20) scale(1 0.83)">0</text>
<line x1="1421.00" y1="1329.60" x2="1421.00" y2="1340.80" stroke="#000" stroke-width="3.4" stroke-linecap="butt"/>
<text x="1423.20" y="0" font-size="24.4" font-weight="bold" text-anchor="middle" transform="translate(0 1363.20) scale(1 0.83)">2000</text>
<line x1="1569.80" y1="1329.60" x2="1569.80" y2="1340.80" stroke="#000" stroke-width="3.4" stroke-linecap="butt"/>
<text x="1569.60" y="0" font-size="24.4" font-weight="bold" text-anchor="middle" transform="translate(0 1363.20) scale(1 0.83)">4000</text>
<line x1="1718.50" y1="1329.60" x2="1718.50" y2="1340.80" stroke="#000" stroke-width="3.4" stroke-linecap="butt"/>
<text x="1718.40" y="0" font-size="24.4" font-weight="bold" text-anchor="middle" transform="translate(0 1363.20) scale(1 0.83)">6000</text>
<line x1="1263.50" y1="1330.40" x2="1272.50" y2="1330.40" stroke="#000" stroke-width="3.4" stroke-linecap="round"/>
<text x="1256.00" y="1340.10" font-size="24.40" font-weight="bold" text-anchor="end" fill="#000">0</text>
<line x1="1263.50" y1="1281.10" x2="1272.50" y2="1281.10" stroke="#000" stroke-width="3.4" stroke-linecap="round"/>
<text x="1256.00" y="1290.80" font-size="24.40" font-weight="bold" text-anchor="end" fill="#000">1</text>
<line x1="1263.50" y1="1231.60" x2="1272.50" y2="1231.60" stroke="#000" stroke-width="3.4" stroke-linecap="round"/>
<text x="1256.00" y="1241.30" font-size="24.40" font-weight="bold" text-anchor="end" fill="#000">2</text>
<line x1="1263.50" y1="1182.10" x2="1272.50" y2="1182.10" stroke="#000" stroke-width="3.4" stroke-linecap="round"/>
<text x="1256.00" y="1191.80" font-size="24.40" font-weight="bold" text-anchor="end" fill="#000">3</text>
<line x1="1263.50" y1="1132.50" x2="1272.50" y2="1132.50" stroke="#000" stroke-width="3.4" stroke-linecap="round"/>
<text x="1256.00" y="1142.20" font-size="24.40" font-weight="bold" text-anchor="end" fill="#000">4</text>
<line x1="1263.50" y1="1082.90" x2="1272.50" y2="1082.90" stroke="#000" stroke-width="3.4" stroke-linecap="round"/>
<text x="1256.00" y="1092.60" font-size="24.40" font-weight="bold" text-anchor="end" fill="#000">5</text>
<text x="1523.80" y="1402.20" font-size="24.40" font-weight="bold" text-anchor="middle" fill="#000">GpL-FLAG-Conatumumab [pM]</text>
<text x="1222.00" y="1182.00" font-size="24.4" font-weight="bold" text-anchor="middle" transform="rotate(-90 1222.00 1182.00)">specific binding [RLU x 10<tspan font-size="21.5" dy="-6.4">6</tspan><tspan dy="6.4">]</tspan></text>
<rect x="1654.20" y="1075.80" width="18.0" height="18.0" fill="#1c945d"/>
<rect x="1458.70" y="1162.60" width="18.0" height="18.0" fill="#1c945d"/>
<rect x="1361.10" y="1216.90" width="18.0" height="18.0" fill="#1c945d"/>
<rect x="1311.90" y="1256.10" width="18.0" height="18.0" fill="#1c945d"/>
<rect x="1288.20" y="1287.00" width="18.0" height="18.0" fill="#1c945d"/>
<rect x="1275.69" y="1303.29" width="18.0" height="18.0" fill="#1c945d"/>
<rect x="1269.60" y="1311.78" width="18.0" height="18.0" fill="#1c945d"/>
<rect x="1266.55" y="1316.15" width="18.0" height="18.0" fill="#1c945d"/>
<rect x="1263.50" y="1320.60" width="18.0" height="18.0" fill="#1c945d"/>
<circle cx="1663.50" cy="1161.60" r="8.9" fill="#fcc386"/>
<circle cx="1467.70" cy="1208.20" r="8.9" fill="#fcc386"/>
<circle cx="1370.10" cy="1257.40" r="8.9" fill="#fcc386"/>
<circle cx="1321.40" cy="1292.80" r="8.9" fill="#fcc386"/>
<circle cx="1297.50" cy="1309.00" r="8.9" fill="#fcc386"/>
<circle cx="1284.69" cy="1317.73" r="8.9" fill="#fcc386"/>
<circle cx="1278.60" cy="1323.54" r="8.9" fill="#fcc386"/>
<circle cx="1275.55" cy="1326.54" r="8.9" fill="#fcc386"/>
<circle cx="1272.50" cy="1329.60" r="8.9" fill="#fcc386"/>
<path d="M1272.50 1329.60 L1274.36 1327.07 L1276.23 1324.57 L1278.09 1322.10 L1279.95 1319.66 L1281.82 1317.25 L1283.68 1314.86 L1285.54 1312.50 L1287.41 1310.16 L1289.27 1307.85 L1291.13 1305.57 L1293.00 1303.31 L1294.86 1301.07 L1296.72 1298.86 L1298.59 1296.67 L1300.45 1294.51 L1302.31 1292.37 L1304.18 1290.25 L1306.04 1288.15 L1307.90 1286.08 L1309.77 1284.02 L1311.63 1281.99 L1313.49 1279.98 L1315.36 1277.99 L1317.22 1276.02 L1319.08 1274.07 L1320.95 1272.14 L1322.81 1270.23 L1324.68 1268.33 L1326.54 1266.46 L1328.40 1264.60 L1330.27 1262.77 L1332.13 1260.95 L1333.99 1259.14 L1335.86 1257.36 L1337.72 1255.59 L1339.58 1253.84 L1341.45 1252.11 L1343.31 1250.39 L1345.17 1248.69 L1347.04 1247.00 L1348.90 1245.34 L1350.76 1243.68 L1352.63 1242.04 L1354.49 1240.42 L1356.35 1238.81 L1358.22 1237.22 L1360.08 1235.64 L1361.94 1234.07 L1363.81 1232.52 L1365.67 1230.98 L1367.53 1229.46 L1369.40 1227.95 L1371.26 1226.45 L1373.12 1224.97 L1374.99 1223.50 L1376.85 1222.04 L1378.71 1220.60 L1380.58 1219.17 L1382.44 1217.75 L1384.30 1216.34 L1386.17 1214.94 L1388.03 1213.56 L1389.89 1212.19 L1391.76 1210.83 L1393.62 1209.48 L1395.48 1208.14 L1397.35 1206.81 L1399.21 1205.50 L1401.07 1204.19 L1402.94 1202.90 L1404.80 1201.61 L1406.66 1200.34 L1408.53 1199.08 L1410.39 1197.82 L1412.25 1196.58 L1414.12 1195.35 L1415.98 1194.13 L1417.84 1192.91 L1419.71 1191.71 L1421.57 1190.52 L1423.44 1189.33 L1425.30 1188.16 L1427.16 1186.99 L1429.03 1185.84 L1430.89 1184.69 L1432.75 1183.55 L1434.62 1182.42 L1436.48 1181.30 L1438.34 1180.18 L1440.21 1179.08 L1442.07 1177.98 L1443.93 1176.90 L1445.80 1175.82 L1447.66 1174.74 L1449.52 1173.68 L1451.39 1172.62 L1453.25 1171.58 L1455.11 1170.54 L1456.98 1169.50 L1458.84 1168.48 L1460.70 1167.46 L1462.57 1166.45 L1464.43 1165.45 L1466.29 1164.45 L1468.16 1163.47 L1470.02 1162.48 L1471.88 1161.51 L1473.75 1160.54 L1475.61 1159.58 L1477.47 1158.63 L1479.34 1157.68 L1481.20 1156.74 L1483.06 1155.81 L1484.93 1154.88 L1486.79 1153.96 L1488.65 1153.04 L1490.52 1152.14 L1492.38 1151.23 L1494.24 1150.34 L1496.11 1149.45 L1497.97 1148.57 L1499.83 1147.69 L1501.70 1146.82 L1503.56 1145.95 L1505.42 1145.09 L1507.29 1144.24 L1509.15 1143.39 L1511.01 1142.54 L1512.88 1141.71 L1514.74 1140.88 L1516.60 1140.05 L1518.47 1139.23 L1520.33 1138.41 L1522.20 1137.60 L1524.06 1136.80 L1525.92 1136.00 L1527.79 1135.20 L1529.65 1134.41 L1531.51 1133.63 L1533.38 1132.85 L1535.24 1132.08 L1537.10 1131.31 L1538.97 1130.54 L1540.83 1129.78 L1542.69 1129.03 L1544.56 1128.28 L1546.42 1127.53 L1548.28 1126.79 L1550.15 1126.05 L1552.01 1125.32 L1553.87 1124.59 L1555.74 1123.87 L1557.60 1123.15 L1559.46 1122.44 L1561.33 1121.73 L1563.19 1121.02 L1565.05 1120.32 L1566.92 1119.63 L1568.78 1118.93 L1570.64 1118.24 L1572.51 1117.56 L1574.37 1116.88 L1576.23 1116.20 L1578.10 1115.53 L1579.96 1114.86 L1581.82 1114.20 L1583.69 1113.54 L1585.55 1112.88 L1587.41 1112.23 L1589.28 1111.58 L1591.14 1110.93 L1593.00 1110.29 L1594.87 1109.66 L1596.73 1109.02 L1598.59 1108.39 L1600.46 1107.76 L1602.32 1107.14 L1604.18 1106.52 L1606.05 1105.91 L1607.91 1105.29 L1609.77 1104.68 L1611.64 1104.08 L1613.50 1103.48 L1615.37 1102.88 L1617.23 1102.28 L1619.09 1101.69 L1620.96 1101.10 L1622.82 1100.51 L1624.68 1099.93 L1626.55 1099.35 L1628.41 1098.78 L1630.27 1098.20 L1632.14 1097.63 L1634.00 1097.07 L1635.86 1096.50 L1637.73 1095.94 L1639.59 1095.38 L1641.45 1094.83 L1643.32 1094.28 L1645.18 1093.73 L1647.04 1093.18 L1648.91 1092.64 L1650.77 1092.10 L1652.63 1091.56 L1654.50 1091.03 L1656.36 1090.50 L1658.22 1089.97 L1660.09 1089.45 L1661.95 1088.92 L1663.81 1088.40 L1665.68 1087.88 L1667.54 1087.37 L1669.40 1086.86 L1671.27 1086.35 L1673.13 1085.84 L1674.99 1085.34 L1676.86 1084.83 L1678.72 1084.34 L1680.58 1083.84 L1682.45 1083.34 L1684.31 1082.85 L1686.17 1082.36 L1688.04 1081.88 L1689.90 1081.39 L1691.76 1080.91 L1693.63 1080.43 L1695.49 1079.95 L1697.35 1079.48 L1699.22 1079.01 L1701.08 1078.54 L1702.94 1078.07 L1704.81 1077.60 L1706.67 1077.14 L1708.53 1076.68 L1710.40 1076.22 L1712.26 1075.77 L1714.13 1075.31 L1715.99 1074.86 L1717.85 1074.41 L1719.72 1073.96" fill="none" stroke="#000" stroke-width="3.5" stroke-dasharray="2.6 6.3" stroke-linecap="round"/>
<path d="M1272.50 1329.60 L1274.34 1327.74 L1276.19 1325.90 L1278.03 1324.09 L1279.88 1322.30 L1281.72 1320.53 L1283.57 1318.78 L1285.41 1317.06 L1287.26 1315.35 L1289.10 1313.67 L1290.95 1312.00 L1292.79 1310.35 L1294.64 1308.73 L1296.48 1307.12 L1298.33 1305.53 L1300.17 1303.96 L1302.02 1302.41 L1303.86 1300.88 L1305.71 1299.36 L1307.55 1297.86 L1309.40 1296.38 L1311.24 1294.91 L1313.09 1293.46 L1314.93 1292.03 L1316.78 1290.61 L1318.62 1289.20 L1320.47 1287.82 L1322.31 1286.44 L1324.15 1285.09 L1326.00 1283.74 L1327.84 1282.41 L1329.69 1281.10 L1331.53 1279.80 L1333.38 1278.51 L1335.22 1277.23 L1337.07 1275.97 L1338.91 1274.72 L1340.76 1273.49 L1342.60 1272.27 L1344.45 1271.06 L1346.29 1269.86 L1348.14 1268.67 L1349.98 1267.50 L1351.83 1266.34 L1353.67 1265.18 L1355.52 1264.04 L1357.36 1262.92 L1359.21 1261.80 L1361.05 1260.69 L1362.90 1259.60 L1364.74 1258.51 L1366.59 1257.43 L1368.43 1256.37 L1370.27 1255.31 L1372.12 1254.27 L1373.96 1253.23 L1375.81 1252.21 L1377.65 1251.19 L1379.50 1250.19 L1381.34 1249.19 L1383.19 1248.20 L1385.03 1247.22 L1386.88 1246.25 L1388.72 1245.29 L1390.57 1244.34 L1392.41 1243.39 L1394.26 1242.46 L1396.10 1241.53 L1397.95 1240.61 L1399.79 1239.70 L1401.64 1238.80 L1403.48 1237.90 L1405.33 1237.01 L1407.17 1236.13 L1409.02 1235.26 L1410.86 1234.40 L1412.71 1233.54 L1414.55 1232.69 L1416.40 1231.85 L1418.24 1231.01 L1420.08 1230.18 L1421.93 1229.36 L1423.77 1228.55 L1425.62 1227.74 L1427.46 1226.94 L1429.31 1226.14 L1431.15 1225.35 L1433.00 1224.57 L1434.84 1223.79 L1436.69 1223.02 L1438.53 1222.26 L1440.38 1221.50 L1442.22 1220.75 L1444.07 1220.01 L1445.91 1219.27 L1447.76 1218.54 L1449.60 1217.81 L1451.45 1217.09 L1453.29 1216.37 L1455.14 1215.66 L1456.98 1214.95 L1458.83 1214.25 L1460.67 1213.56 L1462.52 1212.87 L1464.36 1212.19 L1466.20 1211.51 L1468.05 1210.84 L1469.89 1210.17 L1471.74 1209.50 L1473.58 1208.85 L1475.43 1208.19 L1477.27 1207.54 L1479.12 1206.90 L1480.96 1206.26 L1482.81 1205.63 L1484.65 1205.00 L1486.50 1204.37 L1488.34 1203.75 L1490.19 1203.13 L1492.03 1202.52 L1493.88 1201.92 L1495.72 1201.31 L1497.57 1200.71 L1499.41 1200.12 L1501.26 1199.53 L1503.10 1198.94 L1504.95 1198.36 L1506.79 1197.78 L1508.64 1197.21 L1510.48 1196.64 L1512.33 1196.08 L1514.17 1195.51 L1516.01 1194.96 L1517.86 1194.40 L1519.70 1193.85 L1521.55 1193.30 L1523.39 1192.76 L1525.24 1192.22 L1527.08 1191.69 L1528.93 1191.15 L1530.77 1190.63 L1532.62 1190.10 L1534.46 1189.58 L1536.31 1189.06 L1538.15 1188.55 L1540.00 1188.04 L1541.84 1187.53 L1543.69 1187.02 L1545.53 1186.52 L1547.38 1186.03 L1549.22 1185.53 L1551.07 1185.04 L1552.91 1184.55 L1554.76 1184.07 L1556.60 1183.58 L1558.45 1183.11 L1560.29 1182.63 L1562.14 1182.16 L1563.98 1181.69 L1565.82 1181.22 L1567.67 1180.76 L1569.51 1180.30 L1571.36 1179.84 L1573.20 1179.38 L1575.05 1178.93 L1576.89 1178.48 L1578.74 1178.03 L1580.58 1177.59 L1582.43 1177.15 L1584.27 1176.71 L1586.12 1176.27 L1587.96 1175.84 L1589.81 1175.41 L1591.65 1174.98 L1593.50 1174.55 L1595.34 1174.13 L1597.19 1173.71 L1599.03 1173.29 L1600.88 1172.88 L1602.72 1172.46 L1604.57 1172.05 L1606.41 1171.65 L1608.26 1171.24 L1610.10 1170.84 L1611.94 1170.44 L1613.79 1170.04 L1615.63 1169.64 L1617.48 1169.25 L1619.32 1168.85 L1621.17 1168.46 L1623.01 1168.08 L1624.86 1167.69 L1626.70 1167.31 L1628.55 1166.93 L1630.39 1166.55 L1632.24 1166.17 L1634.08 1165.80 L1635.93 1165.43 L1637.77 1165.06 L1639.62 1164.69 L1641.46 1164.32 L1643.31 1163.96 L1645.15 1163.60 L1647.00 1163.24 L1648.84 1162.88 L1650.69 1162.52 L1652.53 1162.17 L1654.38 1161.82 L1656.22 1161.47 L1658.07 1161.12 L1659.91 1160.77 L1661.75 1160.43 L1663.60 1160.09 L1665.44 1159.74 L1667.29 1159.41 L1669.13 1159.07 L1670.98 1158.73 L1672.82 1158.40 L1674.67 1158.07 L1676.51 1157.74 L1678.36 1157.41 L1680.20 1157.08 L1682.05 1156.76 L1683.89 1156.44 L1685.74 1156.11 L1687.58 1155.79 L1689.43 1155.48 L1691.27 1155.16 L1693.12 1154.85 L1694.96 1154.53 L1696.81 1154.22 L1698.65 1153.91 L1700.50 1153.60 L1702.34 1153.30 L1704.19 1152.99 L1706.03 1152.69 L1707.88 1152.38 L1709.72 1152.08 L1711.56 1151.78 L1713.41 1151.49 L1715.25 1151.19" fill="none" stroke="#000" stroke-width="3.5" stroke-dasharray="2.6 6.3" stroke-linecap="round"/>
</svg>
</body>
</html>
